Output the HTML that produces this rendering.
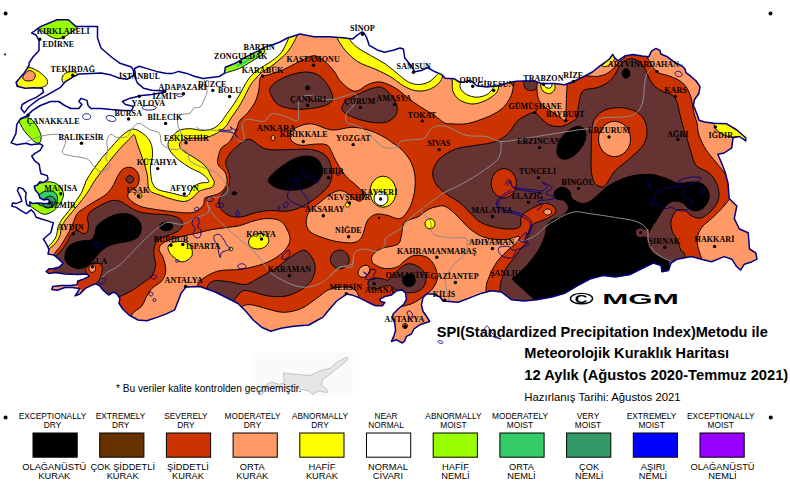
<!DOCTYPE html>
<html><head><meta charset="utf-8"><title>SPI</title>
<style>
html,body{margin:0;padding:0;background:#fff;}
body{width:790px;height:482px;overflow:hidden;position:relative;font-family:"Liberation Sans",sans-serif;}
svg{position:absolute;left:0;top:0;}
.c{font-family:"Liberation Serif",serif;font-weight:bold;font-size:8px;fill:#000;letter-spacing:0.1px;}
.l1{font-family:"Liberation Sans",sans-serif;font-size:8.3px;fill:#000;text-anchor:middle;}
.l2{font-family:"Liberation Sans",sans-serif;font-size:9.3px;fill:#000;text-anchor:middle;}
.t{font-family:"Liberation Sans",sans-serif;font-weight:bold;fill:#000;}
.n{font-family:"Liberation Sans",sans-serif;fill:#000;}
</style></head><body>
<svg width="790" height="482" viewBox="0 0 790 482">
<defs><clipPath id="tr"><path d="M135.2,73.4 L134.5,68.5 L139.2,66.3 L146.3,68.4 L156.5,71.4 L166.6,73.4 L172.7,73.4 L178.7,71.4 L186.8,73.4 L195.0,76.5 L203.0,78.5 L211.1,77.5 L219.2,76.5 L224.3,73.4 L225.3,67.3 L235.4,63.3 L245.6,57.2 L257.7,51.1 L264.8,47.1 L272.0,45.0 L280.0,42.0 L287.3,38.0 L300.0,34.0 L314.0,36.7 L329.0,36.7 L342.7,37.7 L352.8,38.9 L357.0,35.4 L361.6,32.0 L364.0,33.0 L366.7,37.7 L369.2,45.3 L378.1,50.3 L384.4,52.3 L393.3,50.3 L400.0,48.0 L403.4,49.0 L404.0,53.0 L404.7,57.9 L411.0,65.5 L414.8,71.8 L421.1,70.6 L427.5,67.5 L435.0,71.8 L441.4,74.4 L445.2,78.2 L454.0,78.7 L459.1,82.0 L464.2,82.0 L470.5,80.5 L476.8,85.8 L487.0,87.0 L497.1,85.8 L507.2,83.2 L516.0,81.2 L524.0,81.0 L534.0,81.0 L541.8,83.5 L554.4,83.5 L564.6,84.8 L574.7,81.0 L584.8,76.0 L592.4,72.0 L600.0,65.8 L609.0,59.5 L612.8,54.4 L614.0,57.0 L617.8,60.8 L625.4,55.7 L633.0,54.4 L642.0,55.9 L648.7,56.8 L651.5,51.2 L656.0,48.4 L659.9,50.3 L660.8,54.0 L667.3,56.8 L674.8,62.4 L682.2,66.0 L685.0,69.0 L686.0,72.6 L689.7,75.4 L696.2,81.0 L700.0,86.6 L699.0,93.2 L694.4,99.7 L693.4,105.3 L697.2,114.6 L699.0,120.2 L704.6,122.0 L714.0,123.3 L726.7,123.8 L736.8,130.0 L745.7,137.7 L745.7,141.0 L739.4,136.5 L733.0,137.7 L731.8,147.8 L724.2,153.0 L717.8,154.2 L721.6,163.0 L725.4,173.0 L728.0,183.3 L729.2,198.5 L736.8,206.0 L734.3,218.7 L739.4,229.0 L748.2,232.7 L749.5,249.0 L755.8,252.8 L757.0,259.2 L752.0,261.7 L744.4,264.2 L740.6,270.0 L736.8,266.8 L731.8,259.2 L724.2,256.6 L711.5,261.7 L701.4,259.2 L691.3,256.6 L677.3,259.2 L671.0,263.0 L668.5,270.6 L662.0,271.8 L661.0,265.5 L653.3,263.0 L643.0,268.0 L630.5,274.4 L615.3,277.0 L602.7,275.6 L590.0,279.0 L577.2,285.8 L564.6,293.4 L552.0,297.0 L536.7,299.7 L524.0,301.0 L511.4,299.7 L501.3,292.0 L491.0,290.8 L481.0,293.4 L468.4,298.4 L458.2,302.2 L443.0,301.0 L440.0,297.0 L433.0,294.1 L426.4,294.1 L423.1,297.4 L421.4,304.9 L423.1,311.5 L427.2,317.3 L429.7,321.5 L419.7,324.8 L413.9,329.0 L411.4,334.0 L406.4,336.4 L404.8,340.6 L402.3,343.0 L396.5,339.8 L391.5,341.4 L394.0,335.6 L395.6,330.6 L394.8,323.2 L392.3,318.2 L393.2,314.0 L398.1,309.0 L404.0,304.0 L406.4,299.0 L405.6,293.3 L402.3,290.0 L396.5,290.8 L391.5,294.9 L384.9,296.6 L379.9,299.0 L380.7,301.6 L384.9,302.4 L382.4,305.7 L375.7,305.7 L371.6,304.0 L364.9,300.7 L358.3,297.4 L351.6,294.9 L346.6,294.1 L336.7,301.0 L329.0,309.8 L322.8,317.4 L317.7,320.0 L308.9,325.0 L293.7,326.3 L281.0,328.3 L270.9,331.3 L262.0,327.5 L253.2,320.0 L245.6,311.0 L238.0,303.5 L225.3,297.0 L215.2,292.0 L200.0,286.5 L186.0,287.0 L181.0,293.4 L177.2,303.5 L174.7,309.8 L167.0,313.6 L157.0,317.4 L146.8,320.7 L138.0,320.0 L129.0,315.0 L122.7,309.0 L119.0,303.4 L119.9,298.7 L117.1,294.0 L113.4,292.2 L108.7,295.0 L103.1,290.3 L99.4,285.6 L95.6,283.8 L91.0,285.6 L85.4,288.4 L79.8,294.0 L75.1,295.9 L77.0,293.0 L79.8,288.4 L72.3,287.5 L64.9,287.5 L57.4,290.3 L51.8,289.4 L52.7,286.6 L61.1,285.6 L70.4,285.6 L77.0,284.7 L77.9,281.0 L83.5,279.1 L89.1,276.3 L87.2,273.9 L77.9,274.4 L64.9,273.9 L55.5,272.6 L49.0,273.5 L46.2,271.6 L49.0,268.8 L52.7,268.8 L59.3,267.0 L63.0,263.2 L58.3,258.6 L53.7,254.9 L48.0,254.0 L49.0,249.3 L46.2,243.7 L43.4,239.0 L50.9,232.5 L52.7,225.0 L53.5,222.9 L48.6,221.1 L42.3,219.2 L36.1,217.3 L34.2,213.0 L31.1,209.8 L26.2,213.6 L21.8,211.1 L16.2,207.4 L11.8,206.1 L12.5,203.0 L16.2,203.6 L21.8,201.1 L20.5,196.8 L17.4,190.5 L18.7,187.4 L23.0,188.7 L26.2,193.0 L25.5,197.4 L26.8,204.9 L29.9,206.1 L29.9,201.8 L32.4,203.6 L37.4,203.0 L43.6,203.6 L49.2,203.6 L49.8,201.1 L48.0,199.3 L43.6,199.9 L39.9,198.0 L38.6,193.7 L35.5,190.5 L34.2,186.2 L37.4,185.0 L39.9,181.8 L43.6,182.5 L48.0,179.3 L47.3,175.6 L41.0,173.7 L40.1,170.0 L39.2,164.4 L34.5,160.6 L31.7,156.0 L35.4,153.2 L40.1,150.4 L42.9,145.7 L40.1,143.8 L30.8,144.8 L26.1,143.3 L16.8,144.8 L11.2,142.9 L15.9,133.6 L16.8,124.3 L20.5,118.7 L27.0,115.9 L28.2,114.6 L32.3,110.6 L40.4,105.5 L50.5,101.5 L58.6,101.5 L64.7,105.5 L70.8,108.5 L78.9,108.5 L81.9,104.5 L78.9,101.5 L80.9,98.4 L87.0,100.4 L88.0,105.5 L91.0,108.5 L101.1,108.5 L111.3,109.6 L123.4,110.6 L131.5,110.6 L133.6,106.5 L125.4,104.5 L122.4,101.5 L129.5,98.4 L141.7,95.4 L151.8,94.4 L163.9,92.3 L166.0,90.9 L151.8,90.3 L143.7,88.3 L137.6,83.2 L135.0,77.5 Z M31.6,33.0 L40.5,26.6 L57.0,19.7 L68.4,19.7 L76.0,26.6 L97.5,26.6 L97.5,38.0 L101.0,48.0 L111.4,57.0 L120.0,63.3 L126.0,65.3 L131.5,67.0 L133.6,71.0 L133.6,75.1 L127.5,79.2 L119.4,78.2 L111.3,75.1 L101.1,73.1 L91.0,73.5 L78.9,74.1 L72.8,77.2 L64.7,82.2 L60.6,87.3 L53.5,91.3 L46.5,95.4 L38.4,99.4 L29.2,106.5 L25.2,111.6 L24.2,112.6 L21.1,108.5 L22.2,104.5 L29.2,100.4 L36.3,97.4 L43.4,92.3 L42.4,88.3 L34.3,87.7 L25.2,88.3 L17.1,86.3 L16.1,82.2 L24.2,73.1 L29.2,65.0 L29.0,63.0 L33.0,57.0 L39.0,50.6 L39.0,40.5 L36.0,35.0 Z"/></clipPath></defs>
<rect width="790" height="482" fill="#fff"/>
<rect x="252" y="352.5" width="100.6" height="43.5" fill="#fafafa"/>
<path d="M258.9,394.3 L264.5,386.0 L271.0,382.0 L279.3,384.4 L284.2,382.8 L283.5,372.9 L297.4,374.5 L310.5,375.5 L318.8,371.3 L330.3,368.0 L336.8,362.4 L346.7,357.0 L348.4,359.0 L341.8,364.7 L331.9,372.9 L323.7,378.8 L321.0,384.4 L327.0,389.3 L327.0,392.6 L318.8,391.0 L312.2,394.3 L308.9,391.0 L300.7,389.3 L290.8,386.0 L282.6,387.7 L274.3,386.0 L266.1,389.3 L261.2,395.3 Z" fill="#e6e6e6" stroke="#b8b8b8" stroke-width="0.8"/>
<g clip-path="url(#tr)">
<rect x="0" y="0" width="790" height="482" fill="#fff"/>
<path d="M44.0,252.0 C44.6,251.2 46.4,248.6 47.8,247.0 C49.2,245.4 51.0,244.1 52.5,242.2 C54.0,240.3 55.7,238.0 56.6,235.5 C57.5,233.0 57.0,230.1 57.9,227.4 C58.8,224.7 60.2,222.0 62.0,219.3 C63.8,216.6 66.5,214.1 68.7,211.2 C71.0,208.3 73.3,204.9 75.5,201.7 C77.7,198.5 80.0,195.6 81.8,192.2 C83.6,188.8 84.2,184.7 86.1,181.0 C88.0,177.3 90.3,173.8 93.0,169.9 C95.7,166.0 99.1,161.4 102.3,157.4 C105.5,153.4 109.1,149.7 112.2,146.2 C115.3,142.7 118.2,139.1 121.0,136.5 C123.8,133.9 126.7,131.6 129.1,130.4 C131.5,129.2 132.5,128.6 135.2,129.4 C137.9,130.2 142.6,132.9 145.3,135.4 C148.0,137.9 150.2,141.1 151.4,144.6 C152.6,148.1 152.6,153.0 152.4,156.7 C152.2,160.4 150.6,163.1 150.4,166.8 C150.2,170.5 151.0,176.1 151.4,179.0 C151.8,181.9 151.9,182.2 153.0,184.0 C154.1,185.8 154.7,187.9 158.0,189.5 C161.3,191.1 168.2,192.2 172.7,193.3 C177.2,194.4 182.1,196.1 184.8,196.3 C187.5,196.5 187.5,195.9 188.9,194.3 C190.3,192.8 191.0,188.9 193.0,187.0 C195.0,185.1 198.4,183.8 201.0,183.0 C203.6,182.2 207.4,183.0 208.5,182.3 C209.6,181.6 208.7,180.5 207.5,179.0 C206.3,177.5 204.4,175.3 201.6,173.5 C198.8,171.7 194.1,170.1 190.4,167.9 C186.7,165.7 182.5,163.1 179.2,160.4 C175.9,157.8 172.7,154.7 170.8,152.0 C168.9,149.3 168.0,146.8 168.0,144.5 C168.0,142.2 168.9,140.3 170.8,138.0 C172.7,135.7 175.9,132.1 179.2,130.5 C182.5,128.9 186.3,128.7 190.4,128.7 C194.5,128.7 199.4,130.7 203.5,130.5 C207.6,130.3 211.6,129.3 214.7,127.7 C217.8,126.1 220.2,123.0 222.0,121.0 C223.8,119.0 223.4,118.7 225.3,116.0 C227.2,113.3 231.0,108.3 233.4,104.8 C235.8,101.2 237.5,98.2 239.5,94.7 C241.5,91.2 243.6,86.7 245.6,83.5 C247.6,80.3 249.2,77.9 251.6,75.4 C253.9,72.9 256.6,70.6 259.7,68.4 C262.8,66.2 266.5,64.7 269.9,62.3 C273.3,59.9 277.5,56.9 280.0,54.2 C282.5,51.5 283.6,48.7 285.0,46.0 C286.4,43.3 287.8,40.7 288.6,38.0 C289.4,35.3 289.8,31.3 290.0,30.0 L290.0,-10.0 L800.0,-10.0 L800.0,400.0 L30.0,400.0 L30.0,252.0 Z" fill="#ffff00" stroke="#000" stroke-width="0.95" />
<path d="M46.0,256.0 C46.5,254.8 47.7,251.1 49.2,249.0 C50.7,246.9 53.4,245.8 55.2,243.6 C57.0,241.3 59.0,238.2 60.0,235.5 C61.0,232.8 60.3,230.1 61.3,227.4 C62.3,224.7 64.1,222.0 66.0,219.3 C67.9,216.6 70.5,213.9 72.8,211.2 C75.0,208.5 77.5,205.5 79.5,203.1 C81.5,200.7 83.0,198.7 84.6,196.5 C86.2,194.3 87.3,192.8 89.2,189.8 C91.1,186.8 93.5,182.3 96.1,178.6 C98.7,174.9 101.9,171.1 104.8,167.4 C107.7,163.7 110.4,159.9 113.5,156.2 C116.6,152.5 120.7,147.9 123.4,145.0 C126.2,142.1 128.2,140.2 130.0,138.5 C131.8,136.8 133.0,134.0 134.2,134.8 C135.4,135.6 135.7,139.2 137.2,143.5 C138.7,147.8 141.6,155.6 143.3,160.8 C145.0,166.0 146.3,170.0 147.3,174.9 C148.3,179.8 147.2,186.6 149.4,190.0 C151.6,193.4 156.6,193.7 160.5,195.3 C164.4,196.9 168.6,198.4 172.7,199.4 C176.8,200.4 181.4,201.8 184.8,201.4 C188.2,201.1 190.6,199.0 193.0,197.3 C195.4,195.6 197.0,192.7 199.0,191.3 C201.0,190.0 202.8,189.9 205.0,189.2 C207.2,188.5 210.5,188.4 212.0,187.2 C213.5,186.0 214.4,183.9 214.2,182.0 C214.0,180.1 212.5,178.7 211.0,176.0 C209.5,173.3 208.1,169.1 205.3,166.0 C202.5,162.9 197.4,159.9 194.0,157.6 C190.6,155.3 187.1,153.7 184.8,152.0 C182.5,150.3 180.8,148.9 180.0,147.3 C179.2,145.8 179.2,144.1 180.0,142.7 C180.8,141.3 182.8,139.8 184.8,139.0 C186.9,138.2 189.2,138.2 192.3,138.0 C195.4,137.8 199.8,138.6 203.5,138.0 C207.2,137.4 211.1,136.1 214.7,134.3 C218.3,132.5 222.7,129.6 225.3,127.0 C227.9,124.5 228.4,122.0 230.4,119.0 C232.4,116.0 235.3,112.3 237.5,108.9 C239.7,105.5 241.5,102.4 243.5,98.7 C245.5,95.0 247.7,89.8 249.6,86.6 C251.5,83.4 252.7,81.9 254.7,79.5 C256.7,77.1 259.3,74.4 261.8,72.4 C264.3,70.4 266.9,69.5 269.9,67.3 C272.9,65.1 276.9,62.0 280.0,59.2 C283.1,56.4 285.9,54.1 288.6,50.6 C291.3,47.1 294.4,41.4 296.0,38.0 C297.6,34.6 297.7,31.3 298.0,30.0 L298.0,-10.0 L800.0,-10.0 L800.0,400.0 L30.0,400.0 L30.0,256.0 Z" fill="#ff9966" stroke="#000" stroke-width="0.95" />
<path d="M50.0,260.0 C51.0,258.6 54.1,254.1 56.2,251.3 C58.3,248.5 60.1,246.8 62.5,243.0 C64.9,239.2 68.4,233.3 70.8,228.5 C73.2,223.7 74.9,217.3 77.0,214.0 C79.1,210.7 80.3,210.9 83.2,208.8 C86.1,206.7 91.0,203.8 94.6,201.5 C98.2,199.2 102.0,197.7 105.0,195.3 C108.0,192.9 110.2,190.1 112.3,187.0 C114.4,183.9 115.7,179.5 117.4,176.6 C119.1,173.7 120.5,170.9 122.6,169.3 C124.7,167.8 127.8,167.1 130.0,167.3 C132.2,167.5 134.5,168.7 136.0,170.4 C137.5,172.1 139.0,175.0 139.2,177.6 C139.4,180.2 138.7,183.8 137.2,186.0 C135.7,188.2 131.6,189.3 130.0,191.0 C128.4,192.7 127.5,194.6 127.8,196.3 C128.1,198.1 129.8,199.8 132.0,201.5 C134.2,203.2 137.0,205.3 141.3,206.7 C145.6,208.1 152.5,208.9 158.0,209.8 C163.5,210.7 169.3,211.4 174.5,211.9 C179.7,212.4 185.2,213.1 189.0,212.9 C192.8,212.7 194.9,212.2 197.3,210.8 C199.7,209.4 202.4,206.7 203.6,204.6 C204.8,202.5 203.5,199.8 204.6,198.4 C205.7,197.0 207.9,197.0 210.0,196.3 C212.1,195.6 215.0,195.4 217.2,194.3 C219.4,193.2 221.7,192.0 223.3,190.0 C224.9,188.0 226.6,185.3 227.0,182.5 C227.4,179.7 226.8,175.8 225.5,173.0 C224.2,170.2 220.3,168.1 219.0,166.0 C217.7,163.9 217.3,163.3 217.6,160.4 C217.9,157.5 219.0,151.6 221.0,148.5 C223.0,145.4 227.0,144.9 229.6,141.7 C232.2,138.4 234.8,132.4 236.5,129.0 C238.2,125.5 237.7,123.7 239.5,121.0 C241.3,118.3 245.1,115.9 247.6,112.9 C250.1,109.9 252.8,106.5 254.7,102.8 C256.6,99.1 257.9,94.3 258.7,90.6 C259.5,86.9 259.2,82.8 259.7,80.5 C260.2,78.2 260.1,77.5 261.8,76.5 C263.5,75.5 266.3,75.6 269.9,74.4 C273.5,73.2 278.3,71.9 283.5,69.6 C288.7,67.3 295.9,63.1 301.0,60.8 C306.1,58.5 310.2,55.7 314.0,55.7 C317.8,55.7 320.7,58.2 324.0,60.8 C327.3,63.3 331.3,67.7 334.0,71.0 C336.7,74.3 337.3,77.6 340.0,80.7 C342.7,83.8 347.3,87.9 350.3,89.6 C353.3,91.3 354.9,91.6 357.8,90.8 C360.8,90.0 364.2,86.0 368.0,84.5 C371.8,83.0 376.0,81.4 380.6,82.0 C385.2,82.6 391.2,85.6 395.8,88.3 C400.4,91.0 404.3,95.2 408.5,98.4 C412.7,101.6 416.9,104.5 421.1,107.3 C425.3,110.0 430.0,112.4 433.8,114.9 C437.6,117.4 441.1,121.0 443.9,122.5 C446.7,124.0 447.0,123.6 450.6,123.8 C454.2,124.0 460.7,124.5 465.8,123.8 C470.9,123.1 476.2,121.2 481.0,119.5 C485.8,117.8 490.7,115.8 494.6,113.6 C498.6,111.3 502.0,109.0 504.7,106.0 C507.4,103.0 509.5,99.3 511.0,95.9 C512.5,92.5 512.8,89.3 513.5,85.8 C514.2,82.3 514.8,76.8 515.0,75.0 L515.0,-10.0 L800.0,-10.0 L800.0,400.0 L30.0,400.0 L30.0,260.0 Z" fill="#cc3300" stroke="#000" stroke-width="0.95" />
<path d="M290.0,134.0 C290.6,131.7 292.6,129.3 296.2,127.6 C299.8,125.9 305.5,123.4 311.4,123.8 C317.3,124.2 324.8,129.4 331.6,130.0 C338.4,130.6 345.8,127.2 352.0,127.3 C358.2,127.3 363.8,128.8 369.0,130.3 C374.2,131.8 379.2,134.5 383.0,136.5 C386.8,138.5 388.8,140.2 391.8,142.3 C394.8,144.4 397.9,146.1 401.0,149.1 C404.1,152.1 407.8,156.3 410.1,160.5 C412.4,164.7 413.9,169.2 414.7,174.2 C415.5,179.1 415.3,185.2 414.7,190.2 C414.1,195.1 412.8,199.9 411.3,203.9 C409.8,207.9 407.6,211.7 405.5,214.2 C403.4,216.7 401.7,218.6 398.7,218.8 C395.7,219.0 391.1,216.1 387.3,215.3 C383.5,214.5 379.1,213.4 375.9,214.2 C372.7,215.0 369.8,217.4 367.9,219.9 C366.0,222.4 365.6,225.9 364.5,229.0 C363.4,232.1 362.9,235.9 361.0,238.2 C359.1,240.5 357.0,242.1 353.0,242.7 C349.0,243.3 342.3,242.5 337.0,241.6 C331.7,240.7 325.6,238.7 321.0,237.0 C316.4,235.3 312.2,233.8 309.7,231.3 C307.2,228.8 306.2,225.6 306.2,222.2 C306.2,218.8 307.2,214.2 309.7,210.8 C312.2,207.4 317.4,204.5 321.0,201.6 C324.6,198.7 328.3,195.4 331.4,193.6 C334.4,191.8 336.8,190.9 339.3,190.7 C341.8,190.5 343.9,191.2 346.2,192.5 C348.5,193.8 350.7,196.8 353.0,198.2 C355.3,199.6 358.0,201.5 359.9,201.2 C361.8,200.9 364.1,198.1 364.5,196.5 C364.9,194.9 363.7,193.4 362.2,191.4 C360.7,189.4 358.0,187.0 355.3,184.5 C352.6,182.0 349.2,180.1 346.2,176.5 C343.1,172.9 339.5,167.0 337.0,162.8 C334.5,158.6 333.1,154.4 331.4,151.4 C329.7,148.4 329.5,146.2 327.0,145.0 C324.5,143.8 320.8,143.9 316.5,144.0 C312.2,144.1 305.3,145.7 301.3,145.3 C297.3,144.9 294.3,143.4 292.4,141.5 C290.5,139.6 289.4,136.3 290.0,134.0Z" fill="#ff9966" stroke="#000" stroke-width="0.95" />
<path d="M131.6,330.0 C131.6,327.5 129.9,319.0 131.6,315.0 C133.3,311.0 139.3,309.2 141.8,306.0 C144.3,302.8 145.1,298.9 146.8,296.0 C148.5,293.1 149.5,290.9 152.0,288.3 C154.5,285.8 159.7,283.6 162.0,280.7 C164.3,277.8 165.6,274.4 165.8,270.6 C166.0,266.8 164.4,261.6 163.3,258.0 C162.2,254.4 159.1,251.7 159.0,249.2 C158.9,246.7 160.8,244.7 163.0,243.0 C165.2,241.3 168.8,240.1 172.4,238.9 C176.1,237.7 180.4,236.8 184.9,235.7 C189.4,234.6 195.0,233.6 199.4,232.6 C203.8,231.6 206.8,230.5 211.1,229.7 C215.4,228.9 220.6,228.4 225.3,227.7 C230.0,227.0 235.1,226.7 239.5,225.7 C243.9,224.7 247.2,222.8 251.6,221.6 C256.0,220.4 261.1,218.8 265.8,218.6 C270.5,218.4 276.4,218.7 280.0,220.6 C283.6,222.5 285.6,226.7 287.3,230.0 C289.0,233.3 290.4,236.8 290.0,240.2 C289.6,243.6 287.6,247.1 284.8,250.3 C282.0,253.5 277.8,256.7 273.4,259.2 C269.0,261.7 263.7,263.8 258.2,265.5 C252.7,267.2 246.8,268.4 240.5,269.3 C234.2,270.2 225.8,269.6 220.3,270.6 C214.8,271.7 211.3,273.4 207.6,275.6 C203.9,277.8 199.9,279.9 198.0,284.0 C196.1,288.1 196.3,297.3 196.0,300.0L196.0,345.0 L131.6,345.0 Z" fill="#ff9966" stroke="#000" stroke-width="0.95" />
<path d="M238.0,320.0 C238.6,317.9 239.7,309.9 241.8,307.3 C243.9,304.8 246.6,304.5 250.6,304.7 C254.6,304.9 260.3,307.2 265.8,308.5 C271.3,309.8 277.6,312.3 283.5,312.3 C289.4,312.3 295.8,310.8 301.3,308.5 C306.8,306.2 311.9,301.5 316.5,298.4 C321.1,295.2 324.8,291.5 329.0,289.6 C333.2,287.7 338.0,287.2 341.8,287.0 C345.6,286.8 349.3,287.0 352.0,288.3 C354.7,289.6 356.9,291.0 358.2,294.6 C359.5,298.2 359.7,307.4 360.0,310.0L360.0,345.0 L238.0,345.0 Z" fill="#ff9966" stroke="#000" stroke-width="0.95" />
<path d="M371.6,257.4 C372.0,255.4 374.1,253.2 376.0,251.6 C377.9,250.0 380.3,249.0 383.2,248.0 C386.1,247.0 390.7,246.7 393.4,245.8 C396.1,245.0 397.9,244.6 399.2,242.9 C400.5,241.2 400.7,238.8 401.4,235.6 C402.1,232.4 402.4,226.5 403.5,224.0 C404.6,221.5 405.5,221.6 407.9,220.4 C410.3,219.2 415.3,218.1 418.0,216.8 C420.7,215.5 421.9,213.7 423.9,212.4 C425.8,211.1 427.8,209.7 429.7,208.8 C431.6,207.9 433.1,207.5 435.5,207.0 C437.9,206.5 441.1,205.2 444.0,206.0 C446.9,206.8 450.0,209.5 453.0,212.0 C456.0,214.5 459.2,218.2 462.0,221.0 C464.8,223.8 466.8,226.5 470.0,229.0 C473.2,231.5 477.3,234.3 481.0,236.0 C484.7,237.7 487.8,238.4 492.0,239.0 C496.2,239.6 501.8,239.9 506.3,239.5 C510.8,239.1 517.3,235.9 519.0,236.4 C520.7,236.9 518.6,240.2 516.5,242.7 C514.4,245.2 509.7,248.2 506.3,251.6 C502.9,255.0 499.1,258.6 496.2,263.0 C493.2,267.4 490.3,273.8 488.6,278.2 C486.9,282.6 486.4,282.6 486.0,289.6 C485.6,296.6 493.7,309.9 486.0,320.0 C478.3,330.1 456.0,345.0 440.0,350.0 C424.0,355.0 398.7,356.3 390.0,350.0 C381.3,343.7 386.3,319.2 388.0,312.0 C389.7,304.8 396.2,308.3 400.0,307.0 C403.8,305.7 407.7,305.3 411.0,304.0 C414.3,302.7 417.7,300.5 420.0,299.0 C422.3,297.5 422.9,296.7 425.0,295.0 C427.1,293.3 430.6,291.6 432.7,288.7 C434.8,285.8 437.1,281.7 437.4,277.8 C437.7,273.9 436.1,268.9 434.3,265.4 C432.5,261.9 429.9,258.6 426.5,257.0 C423.1,255.3 417.6,254.9 414.0,255.5 C410.4,256.1 407.5,258.8 404.7,260.7 C401.9,262.6 400.4,265.7 397.0,267.0 C393.6,268.3 388.4,269.0 384.5,268.5 C380.6,268.0 375.8,265.7 373.6,263.8 C371.5,261.9 371.2,259.4 371.6,257.4Z" fill="#ff9966" stroke="#000" stroke-width="0.95" />
<path d="M570.0,84.0 C571.3,83.2 575.5,80.3 578.0,79.0 C580.5,77.7 582.0,76.4 585.2,76.0 C588.4,75.6 593.7,76.8 597.3,76.4 C600.9,76.0 603.9,75.0 606.7,73.6 C609.5,72.2 611.9,70.0 614.1,68.0 C616.3,66.0 618.0,63.2 619.7,61.5 C621.4,59.8 623.2,59.6 624.4,57.7 C625.6,55.8 626.6,51.3 627.0,50.0L570.0,50.0 Z" fill="#ff9966" stroke="#000" stroke-width="0.95" />
<path d="M645.0,45.0 C645.5,47.1 646.5,54.2 647.7,57.7 C648.9,61.2 650.7,63.5 652.4,66.0 C654.1,68.5 655.5,71.0 658.0,72.6 C660.5,74.2 663.9,74.2 667.3,75.4 C670.7,76.6 675.4,78.1 678.5,80.0 C681.6,81.9 684.0,83.9 686.0,86.6 C688.0,89.3 689.5,92.9 690.6,96.0 C691.7,99.1 691.9,102.2 692.5,105.3 C693.1,108.4 693.6,111.5 694.4,114.6 C695.2,117.7 696.5,120.6 697.2,124.0 C698.0,127.4 697.4,130.6 698.9,135.0 C700.4,139.4 703.5,145.7 706.5,150.4 C709.5,155.1 713.4,158.9 716.6,163.0 C719.9,167.1 724.4,173.0 726.0,175.0L760.0,173.0 L760.0,45.0 Z" fill="#ff9966" stroke="#000" stroke-width="0.95" />
<path d="M732.0,197.0 C731.5,197.4 730.7,197.8 729.0,199.7 C727.3,201.6 724.5,205.4 721.6,208.6 C718.7,211.8 714.6,215.8 711.5,218.7 C708.4,221.6 705.2,223.3 703.0,226.0 C700.8,228.7 698.9,231.8 698.0,235.0 C697.1,238.2 697.0,241.5 697.6,245.3 C698.2,249.1 700.8,255.9 701.4,258.0L701.0,280.0 L770.0,280.0 L770.0,199.0 Z" fill="#ff9966" stroke="#000" stroke-width="0.95" />
<path d="M333.0,30.0 C333.8,31.5 335.6,35.6 337.6,39.0 C339.6,42.4 341.8,46.5 345.2,50.3 C348.6,54.1 352.7,58.5 357.8,61.7 C362.9,64.9 370.1,66.8 375.6,69.3 C381.1,71.8 386.2,74.2 390.8,76.9 C395.4,79.7 399.2,83.5 403.4,85.8 C407.6,88.1 411.8,90.2 416.0,90.8 C420.2,91.4 424.9,90.9 428.7,89.6 C432.5,88.3 436.6,85.5 438.9,83.2 C441.2,80.9 442.0,78.6 442.7,75.6 C443.4,72.6 442.9,66.8 443.0,65.0Z" fill="#ffff00" stroke="#000" stroke-width="0.95" />
<path d="M340.0,15.0 C341.3,17.8 346.3,27.8 348.0,32.0 C349.7,36.2 348.7,37.6 350.3,40.2 C351.9,42.8 354.4,45.3 357.8,47.8 C361.2,50.3 365.9,52.7 370.5,55.4 C375.1,58.1 381.1,61.0 385.7,64.2 C390.3,67.4 394.6,71.4 398.4,74.4 C402.2,77.4 405.1,80.3 408.5,82.0 C411.9,83.7 415.2,84.5 418.6,84.5 C422.0,84.5 425.8,83.5 428.7,82.0 C431.6,80.5 434.6,77.3 436.3,75.6 C438.0,73.9 438.3,74.1 438.9,71.8 C439.5,69.5 439.0,71.5 440.0,62.0 C441.0,52.5 444.2,22.8 445.0,15.0Z" fill="#ffffff" stroke="#000" stroke-width="0.95" />
<path d="M452.3,74.0 C452.3,75.3 452.2,79.2 452.3,82.0 C452.4,84.8 451.7,87.8 452.8,90.8 C453.9,93.8 455.9,97.5 459.1,99.7 C462.3,101.9 467.6,103.8 471.8,104.0 C476.0,104.2 480.6,102.6 484.4,101.0 C488.2,99.4 492.3,96.7 494.6,94.6 C496.9,92.5 497.8,91.4 498.4,88.3 C499.0,85.2 498.1,78.0 498.0,76.0Z" fill="#ffff00" stroke="#000" stroke-width="0.95" />
<path d="M460.4,74.0 C460.4,75.3 460.4,79.6 460.4,82.0 C460.4,84.4 459.3,86.2 460.4,88.3 C461.4,90.4 464.0,93.1 466.7,94.6 C469.4,96.1 473.4,97.2 476.8,97.2 C480.2,97.2 484.5,95.9 487.0,94.6 C489.5,93.3 490.9,91.0 492.0,89.6 C493.1,88.2 493.1,88.6 493.3,86.3 C493.6,84.0 493.5,77.7 493.5,76.0Z" fill="#ffffff" stroke="#000" stroke-width="0.95" />
<path d="M602.0,65.8 C602.2,64.9 605.1,63.0 607.0,61.0 C608.9,59.0 611.9,54.0 613.2,53.5 C614.5,53.0 615.4,56.3 615.0,58.0 C614.6,59.7 612.5,62.1 611.0,63.5 C609.5,64.9 607.5,66.1 606.0,66.5 C604.5,66.9 601.8,66.7 602.0,65.8Z" fill="#ffff00" stroke="#000" stroke-width="0.95" />
<path d="M712.0,122.0 C712.3,122.4 713.2,123.2 714.0,124.5 C714.8,125.8 714.9,128.2 716.6,130.0 C718.3,131.8 721.7,133.8 724.2,135.0 C726.7,136.2 729.3,136.8 731.8,137.0 C734.3,137.2 738.1,136.6 739.4,136.5L748.0,142.0 L748.0,120.0 Z" fill="#ffff00" stroke="#000" stroke-width="0.95" />
<path d="M270.4,87.4 C272.3,84.5 277.6,80.5 282.8,78.0 C288.0,75.5 296.0,73.1 301.5,72.4 C307.0,71.7 311.9,72.1 316.0,73.9 C320.1,75.7 323.6,79.4 326.4,83.2 C329.2,87.0 332.2,93.2 332.6,96.7 C333.0,100.2 331.6,102.1 328.5,104.0 C325.4,105.9 319.5,107.2 314.0,108.1 C308.5,108.9 301.2,109.6 295.3,109.1 C289.4,108.6 282.7,107.2 278.7,105.0 C274.7,102.8 272.8,98.6 271.4,95.7 C270.0,92.8 268.5,90.4 270.4,87.4Z" fill="#663333" stroke="#000" stroke-width="0.95" />
<path d="M342.0,107.0 C342.5,104.9 344.3,102.0 347.2,99.8 C350.1,97.6 355.5,95.5 359.6,93.6 C363.7,91.7 368.4,89.4 372.0,88.4 C375.6,87.4 378.3,86.4 381.4,87.4 C384.5,88.4 388.1,91.5 390.7,94.6 C393.3,97.7 396.3,102.4 397.0,106.0 C397.7,109.6 397.0,113.6 394.9,116.4 C392.8,119.2 389.0,121.7 384.5,122.6 C380.0,123.5 373.1,122.5 367.9,121.6 C362.7,120.7 357.4,119.0 353.4,117.4 C349.4,115.9 345.9,114.0 344.0,112.3 C342.1,110.6 341.5,109.1 342.0,107.0Z" fill="#663333" stroke="#000" stroke-width="0.95" />
<path d="M225.8,161.6 C226.3,159.3 228.0,156.2 229.9,153.6 C231.8,151.0 235.1,148.2 237.4,146.1 C239.7,144.0 241.8,142.2 243.6,141.1 C245.4,140.0 246.8,139.3 248.5,139.3 C250.2,139.3 251.7,140.0 253.6,141.1 C255.5,142.2 257.5,144.7 259.8,146.1 C262.1,147.5 263.8,148.7 267.3,149.3 C270.8,149.9 276.1,149.9 281.0,149.9 C285.9,149.9 291.6,149.3 296.8,149.3 C302.1,149.3 307.9,148.8 312.5,149.7 C317.1,150.6 321.4,152.3 324.4,154.6 C327.4,156.9 329.1,160.0 330.3,163.5 C331.6,167.0 332.2,171.6 331.9,175.4 C331.6,179.2 330.4,182.9 328.3,186.2 C326.2,189.5 322.7,192.2 319.4,195.0 C316.1,197.8 312.4,200.7 308.6,203.0 C304.8,205.3 300.8,207.5 296.8,208.9 C292.9,210.3 289.5,210.9 284.9,211.2 C280.3,211.5 274.1,210.2 269.2,210.5 C264.3,210.8 260.0,211.8 255.4,212.8 C250.8,213.9 245.9,216.3 241.6,216.8 C237.3,217.3 233.2,217.1 229.7,215.8 C226.2,214.5 222.6,211.4 220.8,208.9 C219.0,206.4 218.6,203.6 218.9,201.0 C219.2,198.4 221.2,195.7 222.8,193.1 C224.4,190.5 227.5,188.1 228.7,185.2 C229.8,182.2 230.0,178.3 229.7,175.4 C229.4,172.5 227.5,169.8 226.8,167.5 C226.2,165.2 225.3,163.9 225.8,161.6Z" fill="#663333" stroke="#000" stroke-width="0.95" />
<path d="M40.0,262.0 C42.7,260.9 51.8,258.7 56.2,255.5 C60.6,252.3 64.2,246.5 66.6,243.0 C69.0,239.5 69.1,236.8 70.8,234.7 C72.5,232.6 74.9,230.8 77.0,230.6 C79.1,230.4 81.5,233.5 83.2,233.7 C84.9,233.9 86.5,233.2 87.4,231.6 C88.3,230.0 88.4,226.7 88.4,224.3 C88.4,221.9 86.9,219.2 87.4,217.0 C87.9,214.8 89.1,212.9 91.5,210.8 C93.9,208.7 98.4,206.3 101.9,204.6 C105.4,202.9 109.2,201.0 112.3,200.5 C115.4,200.0 117.8,200.5 120.6,201.5 C123.4,202.5 125.8,205.0 128.9,206.7 C132.0,208.4 135.0,210.7 139.2,211.9 C143.3,213.1 149.0,213.5 153.8,214.0 C158.7,214.5 164.2,214.3 168.3,215.0 C172.5,215.7 176.3,216.5 178.7,218.1 C181.1,219.7 182.8,222.2 182.8,224.3 C182.8,226.4 180.8,228.9 178.7,230.6 C176.6,232.3 173.5,233.3 170.4,234.7 C167.3,236.1 162.6,237.2 160.0,238.9 C157.4,240.6 155.8,242.6 154.8,245.0 C153.8,247.4 153.8,250.9 153.8,253.4 C153.8,255.9 154.5,258.0 154.8,260.0 C155.1,262.0 156.2,262.9 155.7,265.5 C155.2,268.1 153.9,272.9 152.0,275.6 C150.1,278.4 147.7,279.5 144.3,282.0 C140.9,284.5 133.7,289.3 131.6,290.8L119.0,297.0 L119.0,330.0 L40.0,330.0 Z" fill="#663333" stroke="#000" stroke-width="0.95" />
<path d="M534.0,112.7 C537.0,113.1 539.2,117.0 541.8,119.0 C544.4,121.0 546.0,123.8 549.4,125.0 C552.8,126.2 557.8,127.1 562.0,126.3 C566.2,125.5 572.2,121.7 574.7,120.0 C577.2,118.3 576.3,118.8 577.0,116.0 C577.7,113.2 578.2,106.8 579.0,103.0 C579.8,99.2 580.3,95.2 581.5,93.0 C582.7,90.8 583.4,90.4 586.0,89.5 C588.6,88.6 593.5,88.8 597.3,87.6 C601.0,86.3 605.5,84.2 608.5,82.0 C611.5,79.8 613.1,77.2 615.0,74.5 C616.9,71.8 618.0,68.3 619.7,66.0 C621.4,63.7 623.1,61.7 625.3,60.5 C627.5,59.3 630.3,58.4 632.8,58.7 C635.3,59.0 638.1,60.4 640.3,62.4 C642.5,64.4 644.3,68.0 645.9,70.8 C647.5,73.6 648.0,76.5 649.6,79.2 C651.2,81.9 652.7,84.5 655.2,86.7 C657.7,88.9 661.7,90.9 664.5,92.3 C667.3,93.7 670.0,93.5 672.0,95.0 C674.0,96.5 675.4,98.3 676.7,101.6 C678.0,104.9 678.8,110.0 680.0,114.7 C681.2,119.4 682.9,126.3 684.0,130.0 C685.1,133.7 685.3,133.2 686.5,137.0 C687.7,140.8 689.7,148.2 691.3,153.0 C692.9,157.8 693.3,162.3 696.3,165.6 C699.2,168.9 705.6,170.1 709.0,173.0 C712.4,175.9 714.9,179.5 716.6,183.3 C718.3,187.1 719.2,192.2 719.0,196.0 C718.8,199.8 717.4,202.8 715.3,206.0 C713.2,209.2 709.2,213.0 706.5,215.0 C703.8,217.0 701.6,218.2 698.9,218.2 C696.1,218.2 692.3,216.4 690.0,215.0 C687.7,213.6 687.3,210.7 685.0,210.0 C682.7,209.3 678.3,209.1 676.0,211.0 C673.7,212.9 671.6,217.9 671.0,221.3 C670.4,224.7 671.5,228.7 672.3,231.4 C673.1,234.1 674.5,234.5 676.0,237.7 C677.5,240.8 679.5,246.9 681.0,250.3 C682.5,253.7 684.3,248.1 685.0,258.0 C685.7,267.9 715.8,301.3 685.0,310.0 C654.2,318.7 530.8,313.1 500.0,310.0 C469.2,306.9 499.8,296.2 500.0,291.3 C500.2,286.4 500.2,284.6 501.3,280.7 C502.4,276.8 504.2,271.8 506.3,268.0 C508.4,264.2 511.5,261.4 514.0,258.0 C516.5,254.6 519.4,250.5 521.5,247.8 C523.6,245.1 525.4,244.7 526.6,242.0 C527.9,239.3 527.8,234.4 529.0,231.4 C530.2,228.4 531.0,225.9 534.0,223.8 C537.0,221.7 543.2,220.6 546.8,218.7 C550.4,216.8 554.7,214.5 555.7,212.4 C556.7,210.3 554.9,207.5 553.0,206.0 C551.1,204.5 547.9,203.1 544.3,203.5 C540.7,203.9 535.4,206.5 531.6,208.6 C527.8,210.7 523.4,213.1 521.5,216.0 C519.6,218.9 522.0,224.1 520.3,226.3 C518.6,228.5 515.4,228.8 511.4,229.0 C507.4,229.2 501.3,228.7 496.2,227.6 C491.1,226.5 485.2,224.8 481.0,222.5 C476.8,220.2 474.4,216.9 471.0,213.7 C467.6,210.5 465.0,206.9 460.8,203.5 C456.6,200.1 449.8,196.8 445.6,193.4 C441.4,190.0 437.5,187.1 435.4,183.3 C433.3,179.5 432.1,174.8 433.0,170.6 C433.9,166.4 436.7,161.6 440.5,158.0 C444.3,154.4 449.8,151.1 455.7,149.0 C461.6,146.9 469.2,146.6 476.0,145.3 C482.8,144.1 490.7,143.6 496.2,141.5 C501.7,139.4 505.5,135.9 508.9,132.7 C512.3,129.4 514.0,124.7 516.5,122.0 C519.0,119.3 521.1,118.0 524.0,116.5 C526.9,115.0 531.0,112.3 534.0,112.7Z" fill="#663333" stroke="#000" stroke-width="0.95" />
<path d="M207.6,295.0 C207.6,293.5 206.3,288.2 207.6,285.8 C208.9,283.4 211.4,281.3 215.2,280.7 C219.0,280.1 225.3,281.4 230.4,282.0 C235.5,282.6 241.0,285.1 245.6,284.5 C250.2,283.9 253.1,280.9 258.2,278.2 C263.3,275.4 270.5,271.6 276.0,268.0 C281.5,264.4 286.4,259.6 291.0,256.6 C295.6,253.7 300.4,250.3 303.8,250.3 C307.2,250.3 309.5,253.7 311.4,256.6 C313.3,259.6 315.2,264.0 315.2,268.0 C315.2,272.0 313.7,277.1 311.4,280.7 C309.1,284.3 305.5,287.1 301.3,289.6 C297.1,292.2 291.5,294.9 286.0,296.0 C280.5,297.1 273.9,296.7 268.4,296.0 C262.9,295.3 257.4,292.9 253.2,292.0 C249.0,291.1 246.0,289.7 243.0,290.8 C240.0,291.9 237.5,296.0 235.4,298.4 C233.3,300.8 231.2,303.9 230.4,305.0Z" fill="#663333" stroke="#000" stroke-width="0.95" />
<path d="M524.0,76.0 C524.0,77.3 523.7,81.8 524.0,84.0 C524.3,86.2 524.8,87.9 526.0,89.0 C527.2,90.1 529.3,90.5 531.0,90.5 C532.7,90.5 534.8,90.1 536.0,89.0 C537.2,87.9 537.7,86.2 538.0,84.0 C538.3,81.8 538.0,77.3 538.0,76.0Z" fill="#663333" stroke="#000" stroke-width="0.95" />
<path d="M367.9,284.1 C367.7,282.7 368.6,281.0 369.5,280.0 C370.4,279.0 371.3,278.6 373.2,278.3 C375.1,278.0 378.2,278.0 380.7,278.3 C383.2,278.6 386.1,280.6 388.2,280.0 C390.3,279.4 391.5,276.7 393.2,275.0 C394.9,273.3 395.7,271.9 398.1,270.0 C400.5,268.1 404.5,264.4 407.8,263.8 C411.1,263.2 415.2,265.0 418.0,266.5 C420.8,268.0 423.2,270.8 424.5,273.0 C425.8,275.2 426.2,277.2 426.0,279.5 C425.8,281.8 425.0,285.0 423.5,287.0 C422.0,289.0 419.4,290.5 417.0,291.5 C414.6,292.5 412.1,292.8 409.4,292.8 C406.7,292.8 403.4,292.1 401.0,291.5 C398.6,290.9 396.7,290.1 394.8,289.1 C392.9,288.2 391.7,286.2 389.8,285.8 C387.9,285.4 385.4,286.1 383.2,286.6 C381.0,287.2 378.6,288.8 376.5,289.1 C374.4,289.4 372.1,289.1 370.7,288.3 C369.3,287.5 368.1,285.5 367.9,284.1Z" fill="#663333" stroke="#000" stroke-width="0.95" />
<path d="M349.2,259.5 L348.9,261.9 L347.9,264.2 L346.4,266.1 L344.5,267.6 L342.2,268.6 L339.8,268.9 L337.4,268.6 L335.1,267.6 L333.2,266.1 L331.7,264.2 L330.7,261.9 L330.4,259.5 L330.7,257.1 L331.7,254.8 L333.2,252.9 L335.1,251.4 L337.4,250.4 L339.8,250.1 L342.2,250.4 L344.5,251.4 L346.4,252.9 L347.9,254.8 L348.9,257.1 Z" fill="#663333" stroke="#000" stroke-width="0.95" />
<path d="M133.7,179.3 L133.6,180.3 L133.2,181.2 L132.6,181.9 L131.8,182.5 L131.0,182.9 L130.0,183.0 L129.0,182.9 L128.2,182.5 L127.4,181.9 L126.8,181.2 L126.4,180.3 L126.3,179.3 L126.4,178.3 L126.8,177.5 L127.4,176.7 L128.2,176.1 L129.0,175.7 L130.0,175.6 L131.0,175.7 L131.8,176.1 L132.6,176.7 L133.2,177.5 L133.6,178.3 Z" fill="#663333" stroke="#000" stroke-width="0.95" />
<path d="M605.0,110.0 C609.1,108.4 615.3,107.4 620.4,107.6 C625.5,107.8 631.6,109.3 635.6,111.4 C639.6,113.5 642.5,116.5 644.4,120.0 C646.3,123.5 647.2,128.5 647.0,132.7 C646.8,136.9 645.8,141.1 643.0,145.3 C640.2,149.5 635.1,153.8 630.5,158.0 C625.9,162.2 619.1,166.6 615.3,170.6 C611.5,174.6 609.8,179.3 607.7,182.0 C605.6,184.7 604.8,186.8 602.7,187.0 C600.6,187.2 596.9,186.0 595.0,183.3 C593.1,180.6 591.9,176.9 591.3,170.6 C590.7,164.3 591.1,152.9 591.3,145.3 C591.5,137.7 591.7,129.7 592.5,125.0 C593.3,120.3 593.9,119.5 596.0,117.0 C598.1,114.5 600.9,111.6 605.0,110.0Z" fill="#cc3300" stroke="#000" stroke-width="0.95" />
<path d="M516.4,183.3 L516.0,187.1 L514.7,190.7 L512.7,193.7 L510.1,196.0 L507.1,197.5 L503.8,198.0 L500.5,197.5 L497.5,196.0 L494.9,193.7 L492.9,190.7 L491.6,187.1 L491.2,183.3 L491.6,179.5 L492.9,176.0 L494.9,172.9 L497.5,170.6 L500.5,169.1 L503.8,168.6 L507.1,169.1 L510.1,170.6 L512.7,172.9 L514.7,176.0 L516.0,179.5 Z" fill="#cc3300" stroke="#000" stroke-width="0.95" />
<path d="M85.4,268.8 C86.2,267.5 88.8,265.1 91.0,264.2 C93.2,263.3 96.5,262.7 98.4,263.2 C100.3,263.7 101.7,265.1 102.2,267.0 C102.7,268.9 101.8,272.1 101.2,274.4 C100.6,276.7 99.5,279.4 98.4,281.0 C97.3,282.6 96.1,283.1 94.7,284.3 C93.3,285.5 91.8,286.7 90.0,288.0 C88.2,289.3 86.3,291.7 84.0,292.0 C81.7,292.3 77.7,291.5 76.0,290.0 C74.3,288.5 73.7,284.8 74.0,283.0 C74.3,281.2 76.0,280.2 78.0,279.0 C80.0,277.8 84.7,277.2 86.0,276.0 C87.3,274.8 86.1,273.2 86.0,272.0 C85.9,270.8 84.6,270.1 85.4,268.8Z" fill="#cc3300" stroke="#000" stroke-width="0.95" />
<path d="M45.0,283.0 L77.5,283.5 L79.0,288.4 L82.0,290.0 L76.0,299.0 L45.0,293.0 Z" fill="#ff9966"  />
<path d="M44.0,266.0 L53.0,266.0 L53.0,274.0 L44.0,274.0 Z" fill="#cc3300"  />
<path d="M630.5,139.0 L630.0,143.6 L628.4,147.8 L625.8,151.5 L622.5,154.3 L618.6,156.1 L614.5,156.7 L610.4,156.1 L606.5,154.3 L603.2,151.5 L600.6,147.8 L599.0,143.6 L598.5,139.0 L599.0,134.4 L600.6,130.2 L603.2,126.5 L606.5,123.7 L610.4,121.9 L614.5,121.3 L618.6,121.9 L622.5,123.7 L625.8,126.5 L628.4,130.2 L630.0,134.4 Z" fill="#ff9966" stroke="#000" stroke-width="0.95" />
<path d="M538.0,75.0 C537.8,76.8 537.1,82.7 537.0,86.0 C536.9,89.3 537.0,92.3 537.5,95.0 C538.0,97.7 538.6,99.8 540.0,102.0 C541.4,104.2 543.7,106.2 546.0,108.0 C548.3,109.8 551.5,111.3 554.0,113.0 C556.5,114.7 559.1,116.7 561.0,118.0 C562.9,119.3 564.6,122.0 565.4,120.7 C566.2,119.4 565.8,114.3 566.0,110.0 C566.2,105.7 566.3,99.0 566.5,95.0 C566.7,91.0 566.9,89.3 567.0,86.0 C567.1,82.7 567.0,76.8 567.0,75.0Z" fill="#ff9966" stroke="#000" stroke-width="0.95" />
<path d="M540.5,78.0 C540.5,79.1 540.1,82.6 540.5,84.8 C540.9,87.0 541.5,89.5 543.0,91.0 C544.5,92.5 547.5,93.9 549.4,93.7 C551.3,93.5 553.5,91.5 554.4,90.0 C555.3,88.5 554.9,86.8 555.0,84.8 C555.1,82.8 555.0,79.1 555.0,78.0Z" fill="#ffff00" stroke="#000" stroke-width="0.95" />
<path d="M543.5,78.0 C543.5,79.0 543.1,82.4 543.5,84.0 C543.9,85.6 544.9,86.8 546.0,87.5 C547.1,88.2 549.0,88.4 550.0,88.0 C551.0,87.6 551.7,86.7 552.0,85.0 C552.3,83.3 552.0,79.2 552.0,78.0Z" fill="#ffffff" stroke="#000" stroke-width="0.95" />
<path d="M358.0,273.0 C358.0,271.3 359.4,268.3 361.0,267.0 C362.6,265.7 365.9,264.9 367.4,265.4 C368.9,265.9 370.1,268.2 369.8,270.0 C369.5,271.8 367.3,275.1 365.8,276.3 C364.3,277.5 362.3,277.6 361.0,277.0 C359.7,276.4 358.0,274.7 358.0,273.0Z" fill="#ff9966" stroke="#000" stroke-width="0.95" />
<path d="M551.4,212.0 L551.3,212.8 L550.9,213.5 L550.3,214.1 L549.5,214.6 L548.6,214.9 L547.6,215.0 L546.6,214.9 L545.7,214.6 L544.9,214.1 L544.3,213.5 L543.9,212.8 L543.8,212.0 L543.9,211.2 L544.3,210.5 L544.9,209.9 L545.7,209.4 L546.6,209.1 L547.6,209.0 L548.6,209.1 L549.5,209.4 L550.3,209.9 L550.9,210.5 L551.3,211.2 Z" fill="#ff9966" stroke="#000" stroke-width="0.95" />
<path d="M95.6,268.3 L95.5,269.3 L95.2,270.3 L94.6,271.1 L94.0,271.8 L93.2,272.2 L92.3,272.3 L91.4,272.2 L90.6,271.8 L90.0,271.1 L89.4,270.3 L89.1,269.3 L89.0,268.3 L89.1,267.3 L89.4,266.3 L90.0,265.5 L90.6,264.8 L91.4,264.4 L92.3,264.3 L93.2,264.4 L94.0,264.8 L94.6,265.5 L95.2,266.3 L95.5,267.3 Z" fill="#ff9966" stroke="#000" stroke-width="0.95" />
<path d="M275.0,138.0 L274.9,138.6 L274.7,139.2 L274.4,139.8 L274.0,140.2 L273.5,140.4 L273.0,140.5 L272.5,140.4 L272.0,140.2 L271.6,139.8 L271.3,139.2 L271.1,138.6 L271.0,138.0 L271.1,137.4 L271.3,136.8 L271.6,136.2 L272.0,135.8 L272.5,135.6 L273.0,135.5 L273.5,135.6 L274.0,135.8 L274.4,136.2 L274.7,136.8 L274.9,137.4 Z" fill="#ff9966" stroke="#000" stroke-width="0.95" />
<path d="M407.5,326.0 L407.4,326.6 L407.2,327.2 L406.8,327.8 L406.2,328.2 L405.6,328.4 L405.0,328.5 L404.4,328.4 L403.8,328.2 L403.2,327.8 L402.8,327.2 L402.6,326.6 L402.5,326.0 L402.6,325.4 L402.8,324.8 L403.2,324.2 L403.8,323.8 L404.4,323.6 L405.0,323.5 L405.6,323.6 L406.2,323.8 L406.8,324.2 L407.2,324.8 L407.4,325.4 Z" fill="#cc3300" stroke="#000" stroke-width="0.95" />
<path d="M64.9,256.7 C65.1,254.7 65.5,251.5 66.7,249.3 C67.9,247.1 69.8,245.1 72.3,243.7 C74.8,242.3 78.5,241.5 81.6,240.9 C84.7,240.3 88.8,241.0 91.0,239.9 C93.2,238.8 93.8,236.6 94.7,234.3 C95.7,232.1 95.2,228.8 96.7,226.4 C98.2,224.1 101.1,222.1 104.0,220.2 C106.9,218.3 110.8,216.1 114.3,215.0 C117.8,213.9 121.6,213.3 124.7,213.5 C127.8,213.7 130.6,214.7 133.0,216.0 C135.4,217.3 137.8,219.1 139.2,221.2 C140.6,223.3 141.3,226.1 141.3,228.5 C141.3,230.9 140.2,233.9 139.2,235.7 C138.1,237.4 137.1,238.0 135.0,239.0 C132.9,240.0 129.7,241.0 126.4,241.8 C123.1,242.6 118.6,242.8 115.2,243.7 C111.8,244.6 108.7,245.7 105.9,247.4 C103.1,249.1 100.6,251.7 98.4,253.9 C96.2,256.1 94.7,258.4 92.8,260.4 C90.9,262.4 89.5,264.6 87.2,266.0 C84.9,267.4 81.6,268.8 78.8,268.8 C76.0,268.8 72.6,267.2 70.4,266.0 C68.2,264.8 66.7,262.9 65.8,261.4 C64.9,259.8 64.8,258.7 64.9,256.7Z" fill="#000000" stroke="#000" stroke-width="0.95" />
<path d="M172.8,226.4 L172.6,227.5 L171.9,228.6 L170.9,229.4 L169.5,230.1 L167.9,230.6 L166.2,230.7 L164.5,230.6 L162.9,230.1 L161.5,229.4 L160.5,228.6 L159.8,227.5 L159.6,226.4 L159.8,225.3 L160.5,224.2 L161.5,223.4 L162.9,222.7 L164.5,222.2 L166.2,222.1 L167.9,222.2 L169.5,222.7 L170.9,223.4 L171.9,224.2 L172.6,225.3 Z" fill="#000000" stroke="#000" stroke-width="0.95" />
<path d="M268.2,180.3 C268.4,178.3 270.6,175.9 273.1,173.4 C275.6,170.9 279.4,168.0 283.0,165.5 C286.6,163.0 290.9,160.2 294.8,158.6 C298.7,157.0 303.0,156.0 306.6,156.0 C310.2,156.0 314.0,157.0 316.5,158.6 C319.0,160.2 320.4,163.2 321.4,165.5 C322.4,167.8 322.9,169.9 322.4,172.4 C321.9,174.9 320.8,177.8 318.5,180.3 C316.2,182.8 312.6,185.6 308.6,187.2 C304.7,188.8 299.4,189.8 294.8,190.1 C290.2,190.4 284.8,190.0 281.0,189.2 C277.2,188.4 274.2,186.7 272.1,185.2 C270.0,183.7 268.0,182.3 268.2,180.3Z" fill="#000000" stroke="#000" stroke-width="0.95" />
<path d="M583.1,127.8 L584.9,130.1 L585.9,133.2 L585.8,137.0 L584.8,141.2 L582.8,145.5 L580.1,149.6 L576.7,153.2 L573.1,156.2 L569.3,158.2 L565.6,159.2 L562.3,159.0 L559.7,157.8 L557.9,155.5 L556.9,152.4 L557.0,148.6 L558.0,144.4 L560.0,140.1 L562.7,136.0 L566.1,132.4 L569.7,129.4 L573.5,127.4 L577.2,126.4 L580.5,126.6 Z" fill="#000000" stroke="#000" stroke-width="0.95" />
<path d="M533.8,299.0 C532.6,297.9 529.0,294.6 526.6,292.4 C524.2,290.2 521.9,288.2 519.5,286.0 C517.1,283.8 513.0,280.9 512.5,279.2 C512.0,277.5 514.1,277.9 516.5,275.6 C518.9,273.3 523.2,269.3 526.6,265.5 C530.0,261.7 533.8,257.4 536.7,252.8 C539.7,248.2 542.6,242.1 544.3,237.7 C546.0,233.3 545.5,229.2 546.8,226.3 C548.1,223.4 549.5,221.7 552.0,220.0 C554.5,218.3 559.3,217.9 562.0,216.0 C564.7,214.1 568.0,211.1 568.4,208.6 C568.8,206.1 566.7,202.7 564.6,201.0 C562.5,199.3 557.4,200.0 555.7,198.5 C554.0,197.0 553.4,193.9 554.4,192.0 C555.4,190.1 559.5,187.2 562.0,187.0 C564.5,186.8 567.9,189.1 569.6,191.0 C571.3,192.9 569.9,196.4 572.0,198.5 C574.1,200.6 579.0,203.2 582.3,203.5 C585.6,203.8 588.2,202.5 592.0,200.0 C595.8,197.5 600.7,191.6 605.0,188.4 C609.3,185.2 613.1,182.9 617.8,180.8 C622.5,178.7 627.5,176.8 633.0,175.7 C638.5,174.6 645.3,174.0 650.8,174.4 C656.3,174.8 661.4,176.7 666.0,178.2 C670.6,179.7 674.4,182.7 678.6,183.3 C682.8,183.9 687.5,182.0 691.3,182.0 C695.1,182.0 698.7,182.0 701.4,183.3 C704.1,184.6 706.4,187.1 707.7,189.6 C709.0,192.1 709.6,195.6 709.0,198.5 C708.4,201.4 706.1,205.2 704.0,207.3 C701.9,209.4 698.8,210.8 696.3,211.0 C693.8,211.2 690.8,209.8 688.7,208.6 C686.6,207.3 685.8,204.8 683.7,203.5 C681.6,202.2 678.5,201.0 676.0,201.0 C673.5,201.0 670.8,201.8 668.5,203.5 C666.2,205.2 664.1,208.0 662.0,211.0 C659.9,214.0 657.7,218.3 655.8,221.3 C653.9,224.3 652.3,225.9 650.8,229.0 C649.3,232.1 647.0,236.4 647.0,240.0 C647.0,243.6 648.9,247.5 650.8,250.3 C652.7,253.1 655.4,254.9 658.4,256.6 C661.4,258.3 666.8,259.8 668.5,260.4L668.5,320.0 L534.0,320.0 Z" fill="#000000" stroke="#000" stroke-width="0.95" />
<path d="M645.0,232.8 L644.8,234.0 L644.4,235.2 L643.6,236.2 L642.6,237.0 L641.4,237.4 L640.2,237.6 L639.0,237.4 L637.8,237.0 L636.8,236.2 L636.0,235.2 L635.6,234.0 L635.4,232.8 L635.6,231.6 L636.0,230.4 L636.8,229.4 L637.8,228.6 L639.0,228.2 L640.2,228.0 L641.4,228.2 L642.6,228.6 L643.6,229.4 L644.4,230.4 L644.8,231.6 Z" fill="#663333" stroke="#000" stroke-width="0.95" />
<path d="M643.0,230.0 L649.0,229.0 L649.0,238.0 L643.0,236.0 Z" fill="#663333"  />
<path d="M415.3,280.4 L415.1,282.0 L414.5,283.5 L413.5,284.9 L412.1,285.9 L410.6,286.5 L409.0,286.7 L407.4,286.5 L405.9,285.9 L404.5,284.9 L403.5,283.5 L402.9,282.0 L402.7,280.4 L402.9,278.8 L403.5,277.2 L404.5,275.9 L405.9,274.9 L407.4,274.3 L409.0,274.1 L410.6,274.3 L412.1,274.9 L413.5,275.9 L414.5,277.2 L415.1,278.8 Z" fill="#000000" stroke="#000" stroke-width="0.95" />
<path d="M629.8,73.4 L629.7,74.6 L629.3,75.8 L628.7,76.8 L627.9,77.6 L627.0,78.0 L626.0,78.2 L625.0,78.0 L624.1,77.6 L623.3,76.8 L622.7,75.8 L622.3,74.6 L622.2,73.4 L622.3,72.2 L622.7,71.0 L623.3,70.0 L624.1,69.2 L625.0,68.8 L626.0,68.6 L627.0,68.8 L627.9,69.2 L628.7,70.0 L629.3,71.0 L629.7,72.2 Z" fill="#000000" stroke="#000" stroke-width="0.95" />
<path d="M236.8,193.3 L236.7,193.7 L236.5,194.1 L236.1,194.4 L235.6,194.7 L235.0,194.8 L234.4,194.9 L233.8,194.8 L233.2,194.7 L232.7,194.4 L232.3,194.1 L232.1,193.7 L232.0,193.3 L232.1,192.9 L232.3,192.5 L232.7,192.2 L233.2,191.9 L233.8,191.8 L234.4,191.7 L235.0,191.8 L235.6,191.9 L236.1,192.2 L236.5,192.5 L236.7,192.9 Z" fill="#000000" stroke="#000" stroke-width="0.95" />
<path d="M16.7,82.8 C16.8,80.5 20.0,76.5 22.0,74.0 C24.0,71.5 26.0,67.9 28.9,67.6 C31.8,67.3 36.5,70.2 39.5,72.2 C42.5,74.2 46.1,77.5 47.1,79.8 C48.1,82.1 47.9,84.3 45.6,85.8 C43.3,87.3 37.4,88.5 33.4,88.9 C29.3,89.3 24.1,89.0 21.3,88.0 C18.5,87.0 16.6,85.1 16.7,82.8Z" fill="#ffff00" stroke="#000" stroke-width="0.95" />
<path d="M22.8,76.7 C23.3,75.0 26.9,71.1 28.9,70.6 C30.9,70.1 34.2,72.2 35.0,73.7 C35.8,75.2 34.9,78.6 33.4,79.8 C31.9,81.0 27.6,81.2 25.8,80.7 C24.0,80.2 22.3,78.4 22.8,76.7Z" fill="#ff9966" stroke="#000" stroke-width="0.95" />
<path d="M62.0,78.5 C62.1,76.8 63.2,75.1 64.5,74.0 C65.8,72.9 68.1,72.0 70.0,71.8 C71.9,71.5 74.8,71.8 76.0,72.5 C77.2,73.2 78.0,74.4 77.0,76.0 C76.0,77.6 72.2,80.7 70.0,82.0 C67.8,83.3 65.3,84.6 64.0,84.0 C62.7,83.4 61.9,80.2 62.0,78.5Z" fill="#ffff00" stroke="#000" stroke-width="0.95" />
<path d="M168.3,246.0 C169.1,244.2 171.7,242.7 174.5,242.0 C177.3,241.3 182.2,241.2 184.9,242.0 C187.7,242.8 189.8,244.8 191.0,247.0 C192.2,249.2 192.8,253.2 192.0,255.5 C191.2,257.8 188.0,260.0 186.0,261.0 C184.0,262.0 181.9,262.0 180.0,261.5 C178.1,261.0 176.4,259.4 174.7,258.0 C173.0,256.6 170.7,254.8 169.6,252.8 C168.5,250.8 167.5,247.8 168.3,246.0Z" fill="#ffff00" stroke="#000" stroke-width="0.95" />
<path d="M268.8,239.5 L268.8,241.5 L268.1,243.5 L266.8,245.3 L264.9,246.9 L262.6,248.1 L260.0,248.8 L257.3,249.0 L254.8,248.7 L252.5,247.9 L250.6,246.6 L249.2,245.0 L248.6,243.1 L248.6,241.1 L249.3,239.1 L250.6,237.3 L252.5,235.7 L254.8,234.5 L257.4,233.8 L260.1,233.6 L262.6,233.9 L264.9,234.7 L266.8,236.0 L268.2,237.6 Z" fill="#ffff00" stroke="#000" stroke-width="0.95" />
<path d="M396.0,191.7 L395.6,195.7 L394.3,199.4 L392.2,202.7 L389.5,205.1 L386.4,206.7 L383.0,207.2 L379.6,206.7 L376.5,205.1 L373.8,202.7 L371.7,199.4 L370.4,195.7 L370.0,191.7 L370.4,187.7 L371.7,183.9 L373.8,180.7 L376.5,178.3 L379.6,176.7 L383.0,176.2 L386.4,176.7 L389.5,178.3 L392.2,180.7 L394.3,183.9 L395.6,187.7 Z" fill="#ffff00" stroke="#000" stroke-width="0.95" />
<path d="M388.0,198.5 L387.8,200.3 L387.1,202.0 L385.9,203.4 L384.5,204.6 L382.8,205.3 L381.0,205.5 L379.2,205.3 L377.5,204.6 L376.1,203.4 L374.9,202.0 L374.2,200.3 L374.0,198.5 L374.2,196.7 L374.9,195.0 L376.1,193.6 L377.5,192.4 L379.2,191.7 L381.0,191.5 L382.8,191.7 L384.5,192.4 L385.9,193.6 L387.1,195.0 L387.8,196.7 Z" fill="#ffffff" stroke="#000" stroke-width="0.95" />
<path d="M435.0,223.8 L434.8,225.1 L434.3,226.3 L433.5,227.3 L432.5,228.1 L431.3,228.6 L430.0,228.8 L428.7,228.6 L427.5,228.1 L426.5,227.3 L425.7,226.3 L425.2,225.1 L425.0,223.8 L425.2,222.5 L425.7,221.3 L426.5,220.3 L427.5,219.5 L428.7,219.0 L430.0,218.8 L431.3,219.0 L432.5,219.5 L433.5,220.3 L434.3,221.3 L434.8,222.5 Z" fill="#ffff00" stroke="#000" stroke-width="0.95" />
<path d="M349.9,204.8 L349.8,205.4 L349.6,206.0 L349.2,206.4 L348.8,206.8 L348.2,207.0 L347.6,207.1 L347.0,207.0 L346.5,206.8 L346.0,206.4 L345.6,206.0 L345.4,205.4 L345.3,204.8 L345.4,204.2 L345.6,203.7 L346.0,203.2 L346.5,202.8 L347.0,202.6 L347.6,202.5 L348.2,202.6 L348.8,202.8 L349.2,203.2 L349.6,203.7 L349.8,204.2 Z" fill="#ffff00" stroke="#000" stroke-width="0.95" />
<path d="M142.0,196.0 L141.9,196.6 L141.7,197.1 L141.3,197.6 L140.8,197.9 L140.2,198.1 L139.6,198.2 L139.0,198.1 L138.4,197.9 L137.9,197.6 L137.5,197.1 L137.3,196.6 L137.2,196.0 L137.3,195.4 L137.5,194.9 L137.9,194.4 L138.4,194.1 L139.0,193.9 L139.6,193.8 L140.2,193.9 L140.8,194.1 L141.3,194.4 L141.7,194.9 L141.9,195.4 Z" fill="#ffff00" stroke="#000" stroke-width="0.95" />
<path d="M232.8,249.0 L232.7,249.5 L232.6,249.9 L232.3,250.3 L231.9,250.6 L231.5,250.7 L231.0,250.8 L230.5,250.7 L230.1,250.6 L229.7,250.3 L229.4,249.9 L229.3,249.5 L229.2,249.0 L229.3,248.5 L229.4,248.1 L229.7,247.7 L230.1,247.4 L230.5,247.3 L231.0,247.2 L231.5,247.3 L231.9,247.4 L232.3,247.7 L232.6,248.1 L232.7,248.5 Z" fill="#ffff00" stroke="#000" stroke-width="0.95" />
<path d="M38.0,28.0 C37.3,26.8 37.8,27.1 41.0,25.5 C44.2,23.9 52.3,19.7 57.0,18.5 C61.7,17.3 65.7,17.1 69.0,18.5 C72.3,19.9 76.8,24.6 77.0,27.0 C77.2,29.4 72.3,31.2 70.0,33.0 C67.7,34.8 65.5,36.6 63.0,37.5 C60.5,38.4 58.0,39.2 55.0,38.5 C52.0,37.8 47.8,34.8 45.0,33.0 C42.2,31.2 38.7,29.2 38.0,28.0Z" fill="#99ff00" stroke="#000" stroke-width="0.95" />
<path d="M225.3,67.3 C227.0,65.6 232.0,64.4 235.4,62.7 C238.8,61.0 241.9,59.2 245.6,57.2 C249.3,55.2 254.7,52.0 257.7,50.5 C260.7,49.0 262.6,48.0 263.8,48.1 C265.0,48.2 265.1,49.9 264.8,51.1 C264.5,52.3 264.0,53.5 261.8,55.2 C259.6,56.9 255.3,59.1 251.6,61.3 C247.9,63.5 243.6,66.6 239.5,68.4 C235.4,70.2 229.7,71.6 227.3,72.4 C224.9,73.2 225.3,73.8 225.0,73.0 C224.7,72.2 223.6,69.0 225.3,67.3Z" fill="#99ff00" stroke="#000" stroke-width="0.95" />
<path d="M236.0,65.5 C237.0,64.5 242.5,61.9 246.0,60.0 C249.5,58.1 254.7,55.1 257.0,54.0 C259.3,52.9 261.2,52.5 260.0,53.5 C258.8,54.5 253.3,57.9 250.0,60.0 C246.7,62.1 242.3,65.1 240.0,66.0 C237.7,66.9 235.0,66.5 236.0,65.5Z" fill="#33cc66"  />
<path d="M19.6,120.5 C20.4,119.4 23.2,117.9 25.2,117.7 C27.2,117.5 29.7,118.0 31.7,119.6 C33.7,121.1 35.8,124.4 37.3,127.0 C38.8,129.6 40.5,132.9 41.0,135.4 C41.5,137.9 40.9,140.8 40.1,142.0 C39.3,143.2 37.9,143.5 36.4,142.9 C34.9,142.3 32.8,140.2 30.8,138.2 C28.8,136.2 26.0,133.1 24.3,130.8 C22.6,128.5 21.3,126.0 20.5,124.3 C19.7,122.6 18.8,121.6 19.6,120.5Z" fill="#99ff00" stroke="#000" stroke-width="0.95" />
<path d="M30.0,188.0 C31.2,185.0 32.4,187.0 34.2,186.2 C36.0,185.4 38.4,183.7 41.0,183.0 C43.6,182.3 47.1,181.6 49.8,181.8 C52.5,182.0 55.2,182.9 57.3,184.3 C59.4,185.7 61.3,188.2 62.3,190.0 C63.3,191.8 63.7,192.9 63.5,195.0 C63.3,197.1 62.2,200.1 61.0,202.4 C59.8,204.7 57.9,206.8 56.0,208.6 C54.1,210.4 51.9,212.1 49.8,213.0 C47.7,213.9 45.7,214.5 43.6,214.2 C41.5,213.9 39.5,212.3 37.4,211.1 C35.3,209.8 32.8,207.9 31.1,206.7 C29.4,205.5 27.2,207.1 27.0,204.0 C26.8,200.9 28.8,191.0 30.0,188.0Z" fill="#99ff00" stroke="#000" stroke-width="0.95" />
<path d="M36.0,199.0 C36.3,197.4 38.6,195.5 39.9,194.3 C41.2,193.1 42.0,192.4 43.6,191.8 C45.2,191.2 47.9,190.9 49.8,191.0 C51.7,191.1 53.5,191.4 54.8,192.4 C56.0,193.4 57.0,195.1 57.3,196.8 C57.6,198.5 57.5,200.8 56.7,202.4 C55.9,204.1 53.9,205.8 52.3,206.7 C50.7,207.6 49.0,208.1 47.3,208.0 C45.6,207.9 43.8,206.8 42.3,206.1 C40.8,205.4 39.0,205.2 38.0,204.0 C37.0,202.8 35.7,200.6 36.0,199.0Z" fill="#33cc66" stroke="#000" stroke-width="0.95" />
<path d="M44.0,199.0 C45.3,197.9 48.1,196.4 49.8,196.2 C51.5,196.0 53.3,197.1 54.2,198.0 C55.1,198.9 55.6,200.6 55.4,201.8 C55.2,203.1 54.1,204.6 52.9,205.5 C51.7,206.4 49.5,207.4 48.0,207.4 C46.5,207.4 44.6,206.2 43.6,205.5 C42.6,204.8 41.9,204.1 42.0,203.0 C42.1,201.9 42.7,200.1 44.0,199.0Z" fill="#339966" stroke="#000" stroke-width="0.95" />
</g>
<path d="M26.6,141.5 C28.8,140.7 35.7,137.7 40.0,136.5 C44.3,135.3 48.2,134.6 52.2,134.4 C56.2,134.2 62.1,133.9 64.3,135.4 C66.5,136.9 65.6,140.6 65.3,143.5 C65.0,146.4 61.4,150.7 62.3,152.7 C63.1,154.7 66.4,154.7 70.4,155.7 C74.5,156.7 82.9,157.2 86.6,158.7 C90.3,160.2 90.7,162.8 92.7,164.8 C94.7,166.8 96.4,170.1 98.7,170.9 C101.0,171.8 104.9,170.9 106.8,169.9 C108.7,168.9 110.1,166.7 109.9,164.8 C109.7,162.9 106.2,161.1 105.8,158.7 C105.4,156.3 107.6,153.6 107.8,150.6 C108.0,147.6 106.3,143.2 106.8,140.5 C107.3,137.8 109.2,134.9 110.9,134.4 C112.6,133.9 114.3,137.2 117.0,137.5 C119.7,137.8 124.6,138.0 127.1,136.5 C129.6,135.0 130.2,130.6 132.2,128.4 C134.2,126.2 136.3,123.1 139.2,123.3 C142.1,123.5 146.0,127.7 149.4,129.4 C152.8,131.1 157.5,131.1 159.5,133.4 C161.5,135.8 159.8,141.0 161.5,143.5 C163.2,146.0 166.6,147.8 169.6,148.6 C172.6,149.4 177.7,150.6 179.7,148.6 C181.7,146.6 182.1,140.6 181.8,136.5 C181.5,132.4 178.0,127.8 177.7,124.3 C177.3,120.8 177.7,117.0 179.7,115.2 C181.7,113.4 187.5,114.4 189.9,113.2 C192.3,112.0 192.2,109.1 193.9,108.1 C195.6,107.1 198.3,108.3 200.0,107.0 C201.7,105.7 202.8,102.7 204.0,100.0 C205.2,97.3 207.0,94.0 207.0,90.6 C207.0,87.2 204.5,81.3 204.0,79.5" fill="none" stroke="#8c8c8c" stroke-width="1"/>
<path d="M196.0,126.8 C196.9,127.3 197.4,129.0 201.6,129.6 C205.8,130.2 216.2,130.1 221.2,130.5 C226.2,130.9 229.5,130.9 231.8,131.8 C234.1,132.7 233.8,134.6 234.9,136.1 C236.0,137.6 237.2,140.3 238.6,141.1 C240.0,141.9 242.7,141.9 243.6,141.1 C244.5,140.3 244.4,138.2 244.2,136.1 C244.0,134.0 242.6,131.0 242.4,128.7 C242.2,126.4 242.2,124.0 243.0,122.4 C243.8,120.8 244.9,119.6 247.3,119.3 C249.7,119.0 254.4,120.3 257.3,120.6 C260.2,120.9 262.7,122.1 264.8,121.2 C266.9,120.3 268.1,116.2 269.8,115.0 C271.5,113.8 272.5,113.5 275.0,113.7 C277.5,113.9 281.2,115.2 284.9,116.4 C288.6,117.6 295.1,121.6 297.4,120.6 C299.6,119.6 298.1,113.5 298.4,110.2 C298.7,106.9 297.8,103.3 299.4,100.8 C300.9,98.3 303.2,95.4 307.7,95.2 C312.2,95.0 320.5,99.5 326.4,99.8 C332.3,100.0 338.5,97.7 343.0,96.7 C347.5,95.7 351.0,93.2 353.4,93.6 C355.8,93.9 357.9,96.4 357.5,98.8 C357.1,101.2 353.2,105.5 351.3,108.1 C349.4,110.7 346.8,111.9 346.1,114.3 C345.4,116.7 345.3,120.7 347.2,122.6 C349.1,124.5 354.1,124.0 357.5,125.7 C360.9,127.4 364.8,130.4 367.9,133.0 C371.0,135.6 373.4,138.9 376.2,141.3 C379.0,143.7 381.0,146.5 384.5,147.5 C388.0,148.5 394.2,148.5 397.0,147.5 C399.8,146.5 397.3,142.7 401.1,141.3 C404.9,139.9 416.0,139.8 420.0,139.2 C424.0,138.6 424.4,137.9 425.3,137.7" fill="none" stroke="#8c8c8c" stroke-width="1"/>
<path d="M179.7,148.6 C181.0,149.3 186.1,150.7 187.8,152.7 C189.5,154.7 187.6,158.4 189.9,160.8 C192.2,163.2 197.5,165.2 201.6,167.0 C205.7,168.8 211.3,169.6 214.7,171.6 C218.1,173.6 219.8,176.5 222.0,179.0 C224.2,181.5 227.0,184.0 227.7,186.5 C228.3,189.0 227.8,192.1 225.9,194.0 C224.0,195.9 219.3,197.1 216.5,197.7 C213.7,198.3 210.4,196.2 209.0,197.7 C207.6,199.2 207.0,203.3 208.0,206.5 C209.0,209.7 212.0,212.9 215.2,216.6 C218.4,220.3 222.9,224.6 227.3,228.7 C231.7,232.8 237.1,237.2 241.5,240.9 C245.9,244.6 250.1,247.3 253.7,251.0 C257.3,254.7 260.4,259.3 263.3,263.0 C266.2,266.7 267.1,269.8 270.9,273.0 C274.7,276.2 280.9,279.7 286.0,282.0 C291.1,284.3 296.6,286.4 301.3,287.0 C306.0,287.6 309.8,287.1 314.0,285.8 C318.2,284.5 322.6,282.4 326.6,279.4 C330.6,276.4 333.8,270.5 338.0,268.0 C342.2,265.5 349.3,266.7 352.0,264.2 C354.7,261.7 352.3,255.3 354.4,252.8 C356.5,250.3 360.8,249.2 364.6,249.0 C368.4,248.8 373.8,252.2 377.2,251.6 C380.6,251.0 383.3,247.6 384.8,245.3 C386.3,243.0 383.2,240.9 386.0,238.0 C388.8,235.1 397.7,231.2 401.6,228.0 C405.5,224.8 405.8,222.1 409.4,218.7 C413.0,215.3 417.8,212.0 423.4,207.8 C429.0,203.6 436.4,197.5 443.0,193.4 C449.6,189.3 456.6,187.1 463.3,183.3 C470.1,179.5 477.6,174.8 483.5,170.6 C489.4,166.4 495.7,162.8 498.7,158.0 C501.7,153.2 500.9,144.2 501.3,141.5" fill="none" stroke="#8c8c8c" stroke-width="1"/>
<path d="M98.7,282.0 C100.0,280.5 102.9,275.8 106.3,273.0 C109.7,270.2 114.3,269.3 119.0,265.5 C123.7,261.7 129.1,255.4 134.2,250.3 C139.3,245.2 144.8,239.2 149.4,235.0 C154.0,230.8 158.8,227.1 162.0,225.0 C165.2,222.9 164.8,222.4 168.3,222.3 C171.8,222.2 178.3,225.0 182.8,224.3 C187.3,223.6 191.2,220.0 195.3,218.1 C199.5,216.2 205.4,215.1 207.7,212.9 C210.0,210.7 208.8,206.3 209.0,205.0" fill="none" stroke="#8c8c8c" stroke-width="1"/>
<path d="M330.0,276.3 C331.8,274.8 337.3,268.6 340.9,267.0 C344.5,265.4 349.7,269.1 351.8,267.0 C353.9,264.9 353.1,256.6 353.3,254.5" fill="none" stroke="#8c8c8c" stroke-width="1"/>
<path d="M425.3,137.7 C426.6,136.0 429.6,129.5 433.0,127.6 C436.4,125.7 440.1,125.0 445.6,126.3 C451.1,127.6 459.1,133.5 465.8,135.2 C472.5,136.9 480.1,135.4 486.0,136.5 C491.9,137.6 495.4,141.1 501.3,141.5 C507.2,141.9 513.0,140.2 521.5,139.0 C530.0,137.8 542.7,135.5 552.0,134.0 C561.3,132.5 570.5,131.1 577.2,130.0 C583.9,128.9 589.0,129.3 592.4,127.6 C595.8,125.9 595.4,121.7 597.5,120.0 C599.6,118.3 599.9,118.3 605.0,117.7 C610.1,117.1 622.5,117.5 628.0,116.5 C633.5,115.5 635.5,114.0 638.0,111.4 C640.5,108.8 641.9,105.2 643.0,101.0 C644.1,96.8 643.7,90.6 644.4,86.0 C645.1,81.4 645.3,76.8 647.0,73.4 C648.7,70.0 653.5,68.4 654.5,65.8 C655.5,63.2 653.2,59.3 653.0,58.0" fill="none" stroke="#8c8c8c" stroke-width="1"/>
<path d="M420.3,211.0 C422.0,212.7 428.3,217.5 430.4,221.3 C432.5,225.1 429.6,231.3 433.0,234.0 C436.4,236.7 445.6,237.1 450.6,237.7 C455.7,238.3 460.6,237.3 463.3,237.7 C466.0,238.1 466.6,237.7 467.0,240.2 C467.4,242.7 468.1,248.6 465.8,252.8 C463.5,257.0 456.6,261.3 453.2,265.5 C449.8,269.7 446.7,274.0 445.6,278.2 C444.5,282.4 446.2,287.0 446.8,290.8 C447.4,294.6 449.0,299.3 449.4,301.0" fill="none" stroke="#8c8c8c" stroke-width="1"/>
<path d="M467.0,240.2 C469.8,240.6 477.8,242.3 483.5,242.7 C489.2,243.1 495.4,242.9 501.3,242.7 C507.2,242.5 513.5,242.6 519.0,241.5 C524.5,240.4 529.1,239.3 534.2,236.4 C539.3,233.5 543.1,227.8 549.4,223.8 C555.7,219.8 565.2,214.1 572.0,212.4 C578.8,210.7 582.8,212.8 590.0,213.7 C597.2,214.5 607.7,216.2 615.3,217.5 C622.9,218.8 630.3,219.4 635.6,221.3 C640.9,223.2 644.9,225.8 647.0,229.0 C649.1,232.2 647.2,236.6 648.2,240.2 C649.2,243.8 650.8,247.3 653.3,250.3 C655.8,253.3 660.2,256.1 663.4,258.0 C666.6,259.9 670.8,261.1 672.3,261.7" fill="none" stroke="#8c8c8c" stroke-width="1"/>
<path d="M678.6,180.8 C680.1,179.8 687.5,177.4 691.3,177.0 C695.1,176.6 700.6,177.4 701.4,178.2 C702.2,179.0 698.4,180.9 696.3,182.0 C694.2,183.1 690.8,183.3 688.7,184.6 C686.6,185.9 684.5,187.7 683.7,189.6 C682.9,191.5 682.4,194.3 683.7,196.0 C685.0,197.7 690.2,198.0 691.3,199.7 C692.3,201.4 691.0,204.1 690.0,206.0 C689.0,207.9 687.1,210.3 685.0,211.0 C682.9,211.7 679.6,210.6 677.3,210.0 C675.0,209.4 672.9,207.5 671.0,207.3 C669.1,207.1 668.1,209.0 666.0,208.6 C663.9,208.2 660.9,205.7 658.4,204.8 C655.9,204.0 651.4,204.6 650.8,203.5 C650.1,202.4 653.5,200.4 654.5,198.5 C655.5,196.6 655.1,193.7 657.0,192.0 C658.9,190.3 662.8,189.2 666.0,188.4 C669.2,187.6 673.3,187.8 676.0,187.0 C678.7,186.2 682.0,184.3 682.4,183.3 C682.8,182.3 677.1,181.9 678.6,180.8Z" fill="none" stroke="#000080" stroke-width="0.9"/>
<path d="M649.2,180.8 L649.1,181.2 L649.0,181.6 L648.8,181.9 L648.5,182.1 L648.1,182.2 L647.7,182.3 L647.3,182.2 L647.0,182.1 L646.6,181.9 L646.4,181.6 L646.3,181.2 L646.2,180.8 L646.3,180.4 L646.4,180.1 L646.6,179.7 L647.0,179.5 L647.3,179.4 L647.7,179.3 L648.1,179.4 L648.5,179.5 L648.8,179.7 L649.0,180.1 L649.1,180.4 Z" fill="none" stroke="#000080" stroke-width="0.9"/>
<path d="M651.0,186.3 L650.9,186.7 L650.8,187.1 L650.6,187.4 L650.2,187.6 L649.9,187.7 L649.5,187.8 L649.1,187.7 L648.8,187.6 L648.4,187.4 L648.2,187.1 L648.1,186.7 L648.0,186.3 L648.1,185.9 L648.2,185.6 L648.4,185.2 L648.8,185.0 L649.1,184.9 L649.5,184.8 L649.9,184.9 L650.2,185.0 L650.6,185.2 L650.8,185.6 L650.9,185.9 Z" fill="none" stroke="#000080" stroke-width="0.9"/>
<path d="M703.9,191.0 L703.8,191.6 L703.6,192.2 L703.2,192.8 L702.6,193.2 L702.0,193.4 L701.4,193.5 L700.8,193.4 L700.1,193.2 L699.6,192.8 L699.2,192.2 L699.0,191.6 L698.9,191.0 L699.0,190.4 L699.2,189.8 L699.6,189.2 L700.1,188.8 L700.8,188.6 L701.4,188.5 L702.0,188.6 L702.6,188.8 L703.2,189.2 L703.6,189.8 L703.8,190.4 Z" fill="none" stroke="#000080" stroke-width="0.9"/>
<path d="M295.0,177.7 C295.8,177.7 297.9,177.7 298.7,179.5 C299.5,181.3 298.9,185.7 300.0,188.4 C301.1,191.2 303.5,193.7 305.0,196.0 C306.5,198.3 308.9,200.4 308.9,202.3 C308.9,204.2 306.7,206.9 305.0,207.3 C303.3,207.7 301.0,205.9 298.7,204.8 C296.4,203.8 292.9,202.5 291.0,201.0 C289.1,199.5 287.5,197.9 287.3,196.0 C287.1,194.1 288.7,191.5 290.0,189.6 C291.3,187.7 294.4,186.3 295.0,184.6 C295.6,182.9 293.7,180.7 293.7,179.5 C293.7,178.3 294.2,177.7 295.0,177.7Z" fill="none" stroke="#000080" stroke-width="0.9"/>
<path d="M302.5,170.6 C303.1,170.2 303.8,170.5 306.3,172.0 C308.8,173.5 316.0,177.8 317.7,179.5 C319.4,181.2 318.2,182.4 316.5,182.0 C314.8,181.6 309.9,178.3 307.6,177.0 C305.3,175.7 303.4,175.5 302.5,174.4 C301.6,173.3 301.9,171.0 302.5,170.6Z" fill="none" stroke="#000080" stroke-width="0.9"/>
<path d="M289.8,180.0 L289.8,180.3 L289.6,180.6 L289.4,180.8 L289.2,181.0 L288.9,181.2 L288.6,181.2 L288.3,181.2 L288.0,181.0 L287.8,180.8 L287.6,180.6 L287.4,180.3 L287.4,180.0 L287.4,179.7 L287.6,179.4 L287.8,179.2 L288.0,179.0 L288.3,178.8 L288.6,178.8 L288.9,178.8 L289.2,179.0 L289.4,179.2 L289.6,179.4 L289.8,179.7 Z" fill="none" stroke="#000080" stroke-width="0.9"/>
<path d="M287.9,205.5 L287.5,206.2 L287.1,206.8 L286.6,207.3 L286.1,207.6 L285.5,207.7 L285.0,207.6 L284.5,207.3 L284.2,206.9 L283.9,206.3 L283.9,205.6 L283.9,204.9 L284.1,204.1 L284.5,203.4 L284.9,202.8 L285.4,202.3 L285.9,202.0 L286.5,201.9 L287.0,202.0 L287.5,202.3 L287.8,202.7 L288.1,203.3 L288.1,204.0 L288.1,204.7 Z" fill="none" stroke="#000080" stroke-width="0.9"/>
<path d="M280.0,208.0 L280.0,208.4 L279.9,208.8 L279.7,209.1 L279.5,209.3 L279.3,209.4 L279.0,209.5 L278.7,209.4 L278.5,209.3 L278.3,209.1 L278.1,208.8 L278.0,208.4 L278.0,208.0 L278.0,207.6 L278.1,207.2 L278.3,206.9 L278.5,206.7 L278.7,206.6 L279.0,206.5 L279.3,206.6 L279.5,206.7 L279.7,206.9 L279.9,207.2 L280.0,207.6 Z" fill="none" stroke="#000080" stroke-width="0.9"/>
<path d="M339.5,174.4 L339.4,174.7 L339.3,175.0 L339.1,175.2 L338.8,175.4 L338.4,175.6 L338.0,175.6 L337.6,175.6 L337.2,175.4 L336.9,175.2 L336.7,175.0 L336.6,174.7 L336.5,174.4 L336.6,174.1 L336.7,173.8 L336.9,173.6 L337.2,173.4 L337.6,173.2 L338.0,173.2 L338.4,173.2 L338.8,173.4 L339.1,173.6 L339.3,173.8 L339.4,174.1 Z" fill="none" stroke="#000080" stroke-width="0.9"/>
<path d="M213.4,199.2 L213.3,199.8 L212.9,200.4 L212.4,200.9 L211.7,201.3 L210.9,201.5 L210.0,201.6 L209.1,201.5 L208.3,201.3 L207.6,200.9 L207.1,200.4 L206.7,199.8 L206.6,199.2 L206.7,198.6 L207.1,198.0 L207.6,197.5 L208.3,197.1 L209.1,196.9 L210.0,196.8 L210.9,196.9 L211.7,197.1 L212.4,197.5 L212.9,198.0 L213.3,198.6 Z" fill="none" stroke="#000080" stroke-width="0.9"/>
<path d="M223.7,205.3 L223.6,205.9 L223.2,206.4 L222.5,206.9 L221.7,207.2 L220.7,207.4 L219.7,207.5 L218.7,207.4 L217.7,207.2 L216.9,206.9 L216.2,206.4 L215.8,205.9 L215.7,205.3 L215.8,204.7 L216.2,204.2 L216.9,203.7 L217.7,203.4 L218.7,203.2 L219.7,203.1 L220.7,203.2 L221.7,203.4 L222.5,203.7 L223.2,204.2 L223.6,204.7 Z" fill="none" stroke="#000080" stroke-width="0.9"/>
<path d="M238.9,213.7 L238.9,214.6 L238.7,215.4 L238.5,216.2 L238.2,216.7 L237.9,217.1 L237.5,217.2 L237.1,217.1 L236.8,216.7 L236.5,216.2 L236.3,215.4 L236.1,214.6 L236.1,213.7 L236.1,212.8 L236.3,211.9 L236.5,211.2 L236.8,210.7 L237.1,210.3 L237.5,210.2 L237.9,210.3 L238.2,210.7 L238.5,211.2 L238.7,211.9 L238.9,212.8 Z" fill="none" stroke="#000080" stroke-width="0.9"/>
<path d="M198.5,207.8 L198.6,208.2 L198.6,208.7 L198.5,209.2 L198.2,209.6 L197.8,210.0 L197.3,210.4 L196.8,210.6 L196.2,210.8 L195.7,210.8 L195.2,210.7 L194.8,210.5 L194.5,210.2 L194.4,209.8 L194.4,209.3 L194.5,208.8 L194.8,208.4 L195.2,208.0 L195.7,207.6 L196.2,207.4 L196.8,207.2 L197.3,207.2 L197.8,207.3 L198.2,207.5 Z" fill="none" stroke="#000080" stroke-width="0.9"/>
<path d="M194.0,218.6 C195.0,217.6 197.2,216.9 198.0,217.6 C198.8,218.3 199.0,221.2 199.0,222.7 C199.0,224.2 197.7,225.3 198.0,226.7 C198.3,228.0 200.7,229.1 201.0,230.8 C201.3,232.5 200.8,235.6 200.0,236.8 C199.2,238.0 197.2,238.3 196.0,237.8 C194.8,237.3 193.2,235.3 193.0,233.8 C192.8,232.3 195.2,230.4 195.0,228.7 C194.8,227.0 192.2,225.4 192.0,223.7 C191.8,222.0 193.0,219.6 194.0,218.6Z" fill="none" stroke="#000080" stroke-width="0.9"/>
<path d="M214.2,235.8 C215.0,234.9 217.7,233.9 219.2,234.4 C220.7,234.9 222.0,237.0 223.3,238.9 C224.7,240.8 226.0,244.4 227.3,246.0 C228.6,247.6 231.3,247.8 231.0,248.6 C230.7,249.4 226.9,250.3 225.3,251.0 C223.7,251.7 222.1,251.9 221.3,253.0 C220.5,254.1 220.7,257.5 220.3,257.5 C219.9,257.5 219.3,255.1 218.8,253.0 C218.3,250.9 218.0,247.2 217.2,245.0 C216.4,242.8 214.7,241.4 214.2,239.9 C213.7,238.4 213.4,236.7 214.2,235.8Z" fill="none" stroke="#000080" stroke-width="0.9"/>
<path d="M505.0,184.6 C505.6,183.8 507.8,179.3 508.9,179.5 C510.0,179.7 509.7,184.3 511.4,185.8 C513.1,187.3 515.6,187.8 519.0,188.4 C522.4,189.0 527.8,189.2 531.6,189.6 C535.4,190.0 539.3,191.4 541.8,191.0 C544.3,190.6 546.8,188.5 546.8,187.0 C546.8,185.5 540.9,181.9 541.8,182.0 C542.7,182.1 551.4,185.9 552.0,187.8 C552.6,189.7 545.0,191.8 545.6,193.4 C546.2,195.0 555.1,196.1 555.7,197.2 C556.3,198.2 552.4,199.1 549.4,199.7 C546.4,200.3 539.3,199.9 538.0,201.0 C536.7,202.1 542.0,204.5 541.8,206.0 C541.6,207.5 537.6,209.3 536.7,210.0" fill="none" stroke="#000080" stroke-width="0.9"/>
<path d="M511.4,189.6 C509.7,190.7 503.8,193.7 501.3,196.0 C498.8,198.3 496.2,201.0 496.2,203.5 C496.2,206.0 498.3,209.3 501.3,211.0 C504.3,212.7 510.2,212.6 514.0,213.7 C517.8,214.8 521.3,215.8 524.0,217.5 C526.7,219.2 529.8,221.1 530.4,223.8 C531.0,226.6 528.9,231.0 527.8,234.0 C526.7,237.0 524.2,242.2 524.0,242.0 C523.8,241.8 527.4,232.9 526.6,232.6 C525.8,232.3 518.6,238.3 519.0,240.2 C519.4,242.1 529.8,242.3 529.0,244.0 C528.2,245.7 517.4,249.9 514.0,250.3 C510.6,250.7 511.4,246.9 508.9,246.5 C506.3,246.1 500.0,246.3 498.7,247.8 C497.4,249.3 499.2,253.7 501.3,255.4 C503.4,257.1 508.9,258.9 511.4,258.0 C513.9,257.1 515.6,251.6 516.5,250.3" fill="none" stroke="#000080" stroke-width="0.9"/>
<path d="M507.0,186.0 C507.6,185.2 509.5,180.8 510.5,181.0 C511.5,181.2 511.4,186.0 513.0,187.5 C514.6,189.0 517.0,189.3 520.0,190.0 C523.0,190.7 527.5,191.0 531.0,191.5 C534.5,192.0 539.3,192.8 541.0,193.0" fill="none" stroke="#000080" stroke-width="0.9"/>
<path d="M513.0,191.0 C511.3,192.0 505.5,194.9 503.0,197.0 C500.5,199.1 498.0,201.4 498.0,203.5 C498.0,205.6 500.2,208.1 503.0,209.5 C505.8,210.9 511.2,210.9 515.0,212.0 C518.8,213.1 522.7,214.2 525.5,216.0 C528.3,217.8 531.3,220.0 532.0,223.0 C532.7,226.0 529.9,232.2 529.5,234.0" fill="none" stroke="#000080" stroke-width="0.9"/>
<path d="M90.6,116.6 L90.5,117.4 L90.1,118.1 L89.4,118.7 L88.6,119.2 L87.6,119.5 L86.6,119.6 L85.6,119.5 L84.6,119.2 L83.8,118.7 L83.1,118.1 L82.7,117.4 L82.6,116.6 L82.7,115.8 L83.1,115.1 L83.8,114.5 L84.6,114.0 L85.6,113.7 L86.6,113.6 L87.6,113.7 L88.6,114.0 L89.4,114.5 L90.1,115.1 L90.5,115.8 Z" fill="none" stroke="#000080" stroke-width="0.9"/>
<path d="M115.8,119.8 L115.5,120.5 L114.8,121.0 L113.9,121.3 L112.8,121.5 L111.5,121.4 L110.3,121.2 L109.0,120.8 L108.0,120.2 L107.1,119.5 L106.5,118.7 L106.1,118.0 L106.2,117.2 L106.5,116.5 L107.2,116.0 L108.1,115.7 L109.2,115.5 L110.5,115.6 L111.7,115.8 L113.0,116.2 L114.0,116.8 L114.9,117.5 L115.5,118.3 L115.9,119.0 Z" fill="none" stroke="#000080" stroke-width="0.9"/>
<path d="M156.2,107.7 L156.0,108.3 L155.3,108.9 L154.1,109.4 L152.7,109.8 L151.0,110.0 L149.2,110.1 L147.4,110.0 L145.7,109.8 L144.3,109.4 L143.1,108.9 L142.4,108.3 L142.2,107.7 L142.4,107.1 L143.1,106.5 L144.3,106.0 L145.7,105.6 L147.4,105.4 L149.2,105.3 L151.0,105.4 L152.7,105.6 L154.1,106.0 L155.3,106.5 L156.0,107.1 Z" fill="none" stroke="#000080" stroke-width="0.9"/>
<path d="M183.0,95.3 L182.9,95.7 L182.6,96.0 L182.1,96.3 L181.4,96.5 L180.6,96.7 L179.8,96.7 L179.0,96.7 L178.2,96.5 L177.5,96.3 L177.0,96.0 L176.7,95.7 L176.6,95.3 L176.7,94.9 L177.0,94.6 L177.5,94.3 L178.2,94.1 L179.0,93.9 L179.8,93.9 L180.6,93.9 L181.4,94.1 L182.1,94.3 L182.6,94.6 L182.9,94.9 Z" fill="none" stroke="#000080" stroke-width="0.9"/>
<path d="M682.0,75.2 L681.6,75.8 L681.1,76.3 L680.4,76.6 L679.5,76.7 L678.6,76.7 L677.7,76.4 L676.9,76.0 L676.1,75.5 L675.6,74.9 L675.2,74.2 L675.1,73.4 L675.2,72.8 L675.6,72.2 L676.1,71.7 L676.8,71.4 L677.7,71.3 L678.6,71.3 L679.5,71.6 L680.3,72.0 L681.1,72.5 L681.6,73.1 L682.0,73.8 L682.1,74.6 Z" fill="none" stroke="#000080" stroke-width="0.9"/>
<path d="M100.4,247.4 L100.0,247.8 L99.4,248.1 L98.6,248.2 L97.8,248.0 L96.9,247.7 L96.1,247.3 L95.4,246.7 L94.8,246.0 L94.4,245.2 L94.3,244.5 L94.3,243.8 L94.6,243.2 L95.0,242.8 L95.6,242.5 L96.4,242.4 L97.2,242.6 L98.1,242.9 L98.9,243.3 L99.6,243.9 L100.2,244.6 L100.6,245.4 L100.7,246.1 L100.7,246.8 Z" fill="none" stroke="#000080" stroke-width="0.9"/>
<path d="M105.5,279.2 L105.8,279.9 L105.8,280.6 L105.5,281.3 L105.1,282.0 L104.5,282.6 L103.8,283.2 L102.9,283.5 L102.1,283.8 L101.2,283.8 L100.5,283.6 L99.9,283.3 L99.5,282.8 L99.2,282.1 L99.2,281.4 L99.5,280.7 L99.9,280.0 L100.5,279.4 L101.2,278.8 L102.1,278.5 L102.9,278.2 L103.8,278.2 L104.5,278.4 L105.1,278.7 Z" fill="none" stroke="#000080" stroke-width="0.9"/>
<path d="M156.7,277.0 L156.6,277.5 L156.3,278.0 L155.8,278.4 L155.2,278.7 L154.5,278.9 L153.7,279.0 L152.9,278.9 L152.2,278.7 L151.6,278.4 L151.1,278.0 L150.8,277.5 L150.7,277.0 L150.8,276.5 L151.1,276.0 L151.6,275.6 L152.2,275.3 L152.9,275.1 L153.7,275.0 L154.5,275.1 L155.2,275.3 L155.8,275.6 L156.3,276.0 L156.6,276.5 Z" fill="none" stroke="#000080" stroke-width="0.9"/>
<path d="M153.0,294.0 L152.9,294.5 L152.7,295.0 L152.4,295.4 L152.0,295.7 L151.5,295.9 L151.0,296.0 L150.5,295.9 L150.0,295.7 L149.6,295.4 L149.3,295.0 L149.1,294.5 L149.0,294.0 L149.1,293.5 L149.3,293.0 L149.6,292.6 L150.0,292.3 L150.5,292.1 L151.0,292.0 L151.5,292.1 L152.0,292.3 L152.4,292.6 L152.7,293.0 L152.9,293.5 Z" fill="none" stroke="#000080" stroke-width="0.9"/>
<path d="M155.9,300.0 L155.8,300.4 L155.7,300.8 L155.5,301.1 L155.2,301.3 L154.8,301.4 L154.4,301.5 L154.0,301.4 L153.7,301.3 L153.3,301.1 L153.1,300.8 L153.0,300.4 L152.9,300.0 L153.0,299.6 L153.1,299.2 L153.3,298.9 L153.7,298.7 L154.0,298.6 L154.4,298.5 L154.8,298.6 L155.2,298.7 L155.5,298.9 L155.7,299.2 L155.8,299.6 Z" fill="none" stroke="#000080" stroke-width="0.9"/>
<path d="M178.7,261.0 L178.6,261.4 L178.5,261.8 L178.3,262.1 L177.9,262.3 L177.6,262.4 L177.2,262.5 L176.8,262.4 L176.4,262.3 L176.1,262.1 L175.9,261.8 L175.8,261.4 L175.7,261.0 L175.8,260.6 L175.9,260.2 L176.1,259.9 L176.4,259.7 L176.8,259.6 L177.2,259.5 L177.6,259.6 L177.9,259.7 L178.3,259.9 L178.5,260.2 L178.6,260.6 Z" fill="none" stroke="#000080" stroke-width="0.9"/>
<path d="M219.3,129.6 C220.0,129.4 223.9,130.5 225.9,130.5 C227.9,130.5 230.7,130.2 231.5,129.6 C232.3,129.0 230.1,126.8 230.5,126.8 C230.9,126.8 233.0,129.1 234.2,129.6 C235.3,130.1 237.2,129.0 237.4,129.6 C237.6,130.2 235.2,131.9 235.2,133.3 C235.2,134.7 237.7,138.0 237.4,138.0 C237.1,138.0 234.9,134.3 233.3,133.3 C231.7,132.3 229.6,132.3 227.7,132.0 C225.8,131.7 223.4,131.9 222.0,131.5 C220.6,131.1 218.7,129.8 219.3,129.6Z" fill="none" stroke="#000080" stroke-width="0.9"/>
<path d="M363.3,271.8 C363.5,271.6 367.1,274.8 368.4,274.4 C369.7,274.0 369.6,269.9 370.9,269.3 C372.2,268.7 375.6,269.6 376.0,270.6 C376.4,271.7 373.6,274.1 373.4,275.6 C373.2,277.1 376.0,278.8 374.7,279.4 C373.4,280.0 367.1,280.0 365.8,279.4 C364.5,278.8 367.4,276.9 367.0,275.6 C366.6,274.3 363.1,272.0 363.3,271.8Z" fill="none" stroke="#000080" stroke-width="0.9"/>
<path d="M282.3,259.2 C281.7,258.5 282.4,255.5 283.5,254.0 C284.6,252.5 287.5,250.5 288.6,250.3 C289.7,250.1 290.2,251.5 290.0,252.8 C289.8,254.1 288.6,256.9 287.3,258.0 C286.0,259.1 282.9,259.9 282.3,259.2Z" fill="none" stroke="#000080" stroke-width="0.9"/>
<path d="M245.8,266.3 L245.7,266.9 L245.3,267.6 L244.6,268.1 L243.8,268.5 L242.8,268.7 L241.8,268.8 L240.8,268.7 L239.8,268.5 L239.0,268.1 L238.3,267.6 L237.9,266.9 L237.8,266.3 L237.9,265.7 L238.3,265.1 L239.0,264.5 L239.8,264.1 L240.8,263.9 L241.8,263.8 L242.8,263.9 L243.8,264.1 L244.6,264.5 L245.3,265.1 L245.7,265.7 Z" fill="none" stroke="#000080" stroke-width="0.9"/>
<path d="M407.0,313.0 C406.8,311.7 409.0,310.5 410.0,311.0 C411.0,311.5 412.8,314.7 413.0,316.0 C413.2,317.3 412.0,319.5 411.0,319.0 C410.0,318.5 407.2,314.3 407.0,313.0Z" fill="none" stroke="#000080" stroke-width="0.9"/>
<path d="M483.0,332.0 C483.7,331.0 485.5,325.8 487.0,326.0 C488.5,326.2 490.3,331.2 492.0,333.0 C493.7,334.8 495.5,336.0 497.0,337.0 C498.5,338.0 501.5,339.0 501.0,339.0 C500.5,339.0 496.2,337.8 494.0,337.0 C491.8,336.2 489.0,334.5 488.0,334.0" fill="none" stroke="#000080" stroke-width="0.9"/>
<path d="M442.8,342.9 L442.7,343.1 L442.3,343.4 L441.8,343.5 L441.3,343.5 L440.7,343.4 L440.1,343.2 L439.5,343.0 L438.9,342.6 L438.5,342.3 L438.2,341.9 L438.1,341.5 L438.2,341.1 L438.3,340.9 L438.7,340.6 L439.2,340.5 L439.7,340.5 L440.3,340.6 L440.9,340.8 L441.5,341.0 L442.1,341.4 L442.5,341.7 L442.8,342.1 L442.9,342.5 Z" fill="none" stroke="#000080" stroke-width="0.9"/>
<path d="M5.5,54.4 L5.5,54.5 L5.4,54.6 L5.4,54.8 L5.2,54.8 L5.1,54.9 L5.0,54.9 L4.9,54.9 L4.8,54.8 L4.6,54.8 L4.6,54.6 L4.5,54.5 L4.5,54.4 L4.5,54.3 L4.6,54.1 L4.6,54.0 L4.8,54.0 L4.9,53.9 L5.0,53.9 L5.1,53.9 L5.2,54.0 L5.4,54.0 L5.4,54.1 L5.5,54.3 Z" fill="none" stroke="#000080" stroke-width="0.9"/>
<path d="M135.2,73.4 L134.5,68.5 L139.2,66.3 L146.3,68.4 L156.5,71.4 L166.6,73.4 L172.7,73.4 L178.7,71.4 L186.8,73.4 L195.0,76.5 L203.0,78.5 L211.1,77.5 L219.2,76.5 L224.3,73.4 L225.3,67.3 L235.4,63.3 L245.6,57.2 L257.7,51.1 L264.8,47.1 L272.0,45.0 L280.0,42.0 L287.3,38.0 L300.0,34.0 L314.0,36.7 L329.0,36.7 L342.7,37.7 L352.8,38.9 L357.0,35.4 L361.6,32.0 L364.0,33.0 L366.7,37.7 L369.2,45.3 L378.1,50.3 L384.4,52.3 L393.3,50.3 L400.0,48.0 L403.4,49.0 L404.0,53.0 L404.7,57.9 L411.0,65.5 L414.8,71.8 L421.1,70.6 L427.5,67.5 L435.0,71.8 L441.4,74.4 L445.2,78.2 L454.0,78.7 L459.1,82.0 L464.2,82.0 L470.5,80.5 L476.8,85.8 L487.0,87.0 L497.1,85.8 L507.2,83.2 L516.0,81.2 L524.0,81.0 L534.0,81.0 L541.8,83.5 L554.4,83.5 L564.6,84.8 L574.7,81.0 L584.8,76.0 L592.4,72.0 L600.0,65.8 L609.0,59.5 L612.8,54.4 L614.0,57.0 L617.8,60.8 L625.4,55.7 L633.0,54.4 L642.0,55.9 L648.7,56.8 L651.5,51.2 L656.0,48.4 L659.9,50.3 L660.8,54.0 L667.3,56.8 L674.8,62.4 L682.2,66.0 L685.0,69.0 L686.0,72.6 L689.7,75.4 L696.2,81.0 L700.0,86.6 L699.0,93.2 L694.4,99.7 L693.4,105.3 L697.2,114.6 L699.0,120.2 L704.6,122.0 L714.0,123.3 L726.7,123.8 L736.8,130.0 L745.7,137.7 L745.7,141.0 L739.4,136.5 L733.0,137.7 L731.8,147.8 L724.2,153.0 L717.8,154.2 L721.6,163.0 L725.4,173.0 L728.0,183.3 L729.2,198.5 L736.8,206.0 L734.3,218.7 L739.4,229.0 L748.2,232.7 L749.5,249.0 L755.8,252.8 L757.0,259.2 L752.0,261.7 L744.4,264.2 L740.6,270.0 L736.8,266.8 L731.8,259.2 L724.2,256.6 L711.5,261.7 L701.4,259.2 L691.3,256.6 L677.3,259.2 L671.0,263.0 L668.5,270.6 L662.0,271.8 L661.0,265.5 L653.3,263.0 L643.0,268.0 L630.5,274.4 L615.3,277.0 L602.7,275.6 L590.0,279.0 L577.2,285.8 L564.6,293.4 L552.0,297.0 L536.7,299.7 L524.0,301.0 L511.4,299.7 L501.3,292.0 L491.0,290.8 L481.0,293.4 L468.4,298.4 L458.2,302.2 L443.0,301.0 L440.0,297.0 L433.0,294.1 L426.4,294.1 L423.1,297.4 L421.4,304.9 L423.1,311.5 L427.2,317.3 L429.7,321.5 L419.7,324.8 L413.9,329.0 L411.4,334.0 L406.4,336.4 L404.8,340.6 L402.3,343.0 L396.5,339.8 L391.5,341.4 L394.0,335.6 L395.6,330.6 L394.8,323.2 L392.3,318.2 L393.2,314.0 L398.1,309.0 L404.0,304.0 L406.4,299.0 L405.6,293.3 L402.3,290.0 L396.5,290.8 L391.5,294.9 L384.9,296.6 L379.9,299.0 L380.7,301.6 L384.9,302.4 L382.4,305.7 L375.7,305.7 L371.6,304.0 L364.9,300.7 L358.3,297.4 L351.6,294.9 L346.6,294.1 L336.7,301.0 L329.0,309.8 L322.8,317.4 L317.7,320.0 L308.9,325.0 L293.7,326.3 L281.0,328.3 L270.9,331.3 L262.0,327.5 L253.2,320.0 L245.6,311.0 L238.0,303.5 L225.3,297.0 L215.2,292.0 L200.0,286.5 L186.0,287.0 L181.0,293.4 L177.2,303.5 L174.7,309.8 L167.0,313.6 L157.0,317.4 L146.8,320.7 L138.0,320.0 L129.0,315.0 L122.7,309.0 L119.0,303.4 L119.9,298.7 L117.1,294.0 L113.4,292.2 L108.7,295.0 L103.1,290.3 L99.4,285.6 L95.6,283.8 L91.0,285.6 L85.4,288.4 L79.8,294.0 L75.1,295.9 L77.0,293.0 L79.8,288.4 L72.3,287.5 L64.9,287.5 L57.4,290.3 L51.8,289.4 L52.7,286.6 L61.1,285.6 L70.4,285.6 L77.0,284.7 L77.9,281.0 L83.5,279.1 L89.1,276.3 L87.2,273.9 L77.9,274.4 L64.9,273.9 L55.5,272.6 L49.0,273.5 L46.2,271.6 L49.0,268.8 L52.7,268.8 L59.3,267.0 L63.0,263.2 L58.3,258.6 L53.7,254.9 L48.0,254.0 L49.0,249.3 L46.2,243.7 L43.4,239.0 L50.9,232.5 L52.7,225.0 L53.5,222.9 L48.6,221.1 L42.3,219.2 L36.1,217.3 L34.2,213.0 L31.1,209.8 L26.2,213.6 L21.8,211.1 L16.2,207.4 L11.8,206.1 L12.5,203.0 L16.2,203.6 L21.8,201.1 L20.5,196.8 L17.4,190.5 L18.7,187.4 L23.0,188.7 L26.2,193.0 L25.5,197.4 L26.8,204.9 L29.9,206.1 L29.9,201.8 L32.4,203.6 L37.4,203.0 L43.6,203.6 L49.2,203.6 L49.8,201.1 L48.0,199.3 L43.6,199.9 L39.9,198.0 L38.6,193.7 L35.5,190.5 L34.2,186.2 L37.4,185.0 L39.9,181.8 L43.6,182.5 L48.0,179.3 L47.3,175.6 L41.0,173.7 L40.1,170.0 L39.2,164.4 L34.5,160.6 L31.7,156.0 L35.4,153.2 L40.1,150.4 L42.9,145.7 L40.1,143.8 L30.8,144.8 L26.1,143.3 L16.8,144.8 L11.2,142.9 L15.9,133.6 L16.8,124.3 L20.5,118.7 L27.0,115.9 L28.2,114.6 L32.3,110.6 L40.4,105.5 L50.5,101.5 L58.6,101.5 L64.7,105.5 L70.8,108.5 L78.9,108.5 L81.9,104.5 L78.9,101.5 L80.9,98.4 L87.0,100.4 L88.0,105.5 L91.0,108.5 L101.1,108.5 L111.3,109.6 L123.4,110.6 L131.5,110.6 L133.6,106.5 L125.4,104.5 L122.4,101.5 L129.5,98.4 L141.7,95.4 L151.8,94.4 L163.9,92.3 L166.0,90.9 L151.8,90.3 L143.7,88.3 L137.6,83.2 L135.0,77.5 Z M31.6,33.0 L40.5,26.6 L57.0,19.7 L68.4,19.7 L76.0,26.6 L97.5,26.6 L97.5,38.0 L101.0,48.0 L111.4,57.0 L120.0,63.3 L126.0,65.3 L131.5,67.0 L133.6,71.0 L133.6,75.1 L127.5,79.2 L119.4,78.2 L111.3,75.1 L101.1,73.1 L91.0,73.5 L78.9,74.1 L72.8,77.2 L64.7,82.2 L60.6,87.3 L53.5,91.3 L46.5,95.4 L38.4,99.4 L29.2,106.5 L25.2,111.6 L24.2,112.6 L21.1,108.5 L22.2,104.5 L29.2,100.4 L36.3,97.4 L43.4,92.3 L42.4,88.3 L34.3,87.7 L25.2,88.3 L17.1,86.3 L16.1,82.2 L24.2,73.1 L29.2,65.0 L29.0,63.0 L33.0,57.0 L39.0,50.6 L39.0,40.5 L36.0,35.0 Z" fill="none" stroke="#000080" stroke-width="1.5" stroke-linejoin="round"/>
<circle cx="307.6" cy="88.0" r="2.4" fill="#000"/>
<circle cx="640.6" cy="232.6" r="1.5" fill="#000"/>
<circle cx="379.0" cy="218.0" r="1.2" fill="#000"/>
<circle cx="63.3" cy="37.5" r="1.7" fill="#000"/>
<text x="36.7" y="34.2" class="c">KIRKLARELİ</text>
<circle cx="39.7" cy="39.2" r="1.7" fill="#000"/>
<text x="42.5" y="47.3" class="c">EDİRNE</text>
<circle cx="72.7" cy="75.2" r="1.7" fill="#000"/>
<text x="50.6" y="72.2" class="c">TEKİRDAĞ</text>
<circle cx="-10.0" cy="-10.0" r="1.7" fill="#000"/>
<text x="119.0" y="79.0" class="c">İSTANBUL</text>
<circle cx="183.5" cy="93.7" r="1.7" fill="#000"/>
<text x="158.5" y="89.8" class="c">ADAPAZARI</text>
<circle cx="164.6" cy="91.6" r="1.7" fill="#000"/>
<text x="152.4" y="99.0" class="c">İZMİT</text>
<circle cx="139.2" cy="96.2" r="1.7" fill="#000"/>
<text x="131.6" y="105.8" class="c">YALOVA</text>
<circle cx="128.6" cy="119.0" r="1.7" fill="#000"/>
<text x="114.4" y="116.0" class="c">BURSA</text>
<circle cx="165.6" cy="123.4" r="1.7" fill="#000"/>
<text x="147.4" y="119.8" class="c">BİLECİK</text>
<circle cx="28.0" cy="115.3" r="1.7" fill="#000"/>
<text x="26.7" y="124.4" class="c">ÇANAKKALE</text>
<circle cx="81.5" cy="143.3" r="1.7" fill="#000"/>
<text x="58.4" y="140.4" class="c">BALIKESİR</text>
<circle cx="212.8" cy="90.4" r="1.7" fill="#000"/>
<text x="198.0" y="87.0" class="c">DÜZCE</text>
<circle cx="229.6" cy="96.5" r="1.7" fill="#000"/>
<text x="218.0" y="93.0" class="c">BOLU</text>
<circle cx="186.0" cy="142.7" r="1.7" fill="#000"/>
<text x="164.0" y="140.5" class="c">ESKİŞEHİR</text>
<circle cx="260.0" cy="52.0" r="1.7" fill="#000"/>
<text x="243.5" y="49.6" class="c">BARTIN</text>
<circle cx="240.5" cy="62.0" r="1.7" fill="#000"/>
<text x="214.0" y="59.2" class="c">ZONGULDAK</text>
<circle cx="262.5" cy="76.0" r="1.7" fill="#000"/>
<text x="241.8" y="72.7" class="c">KARABÜK</text>
<circle cx="313.4" cy="65.3" r="1.7" fill="#000"/>
<text x="286.6" y="62.0" class="c">KASTAMONU</text>
<circle cx="362.5" cy="34.2" r="1.7" fill="#000"/>
<text x="349.9" y="31.1" class="c">SİNOP</text>
<circle cx="307.6" cy="105.3" r="1.7" fill="#000"/>
<text x="289.9" y="101.8" class="c">ÇANKIRI</text>
<circle cx="360.3" cy="107.5" r="1.7" fill="#000"/>
<text x="343.8" y="104.0" class="c">ÇORUM</text>
<circle cx="394.5" cy="104.4" r="1.7" fill="#000"/>
<text x="376.3" y="100.9" class="c">AMASYA</text>
<circle cx="413.5" cy="72.3" r="1.7" fill="#000"/>
<text x="396.6" y="69.0" class="c">SAMSUN</text>
<circle cx="472.7" cy="86.3" r="1.7" fill="#000"/>
<text x="459.5" y="83.0" class="c">ORDU</text>
<circle cx="493.7" cy="90.4" r="1.7" fill="#000"/>
<text x="477.2" y="86.6" class="c">GİRESUN</text>
<circle cx="543.5" cy="84.3" r="1.7" fill="#000"/>
<text x="523.3" y="81.0" class="c">TRABZON</text>
<circle cx="573.4" cy="81.5" r="1.7" fill="#000"/>
<text x="563.3" y="78.0" class="c">RİZE</text>
<circle cx="534.7" cy="112.4" r="1.7" fill="#000"/>
<text x="508.4" y="108.9" class="c">GÜMÜŞHANE</text>
<circle cx="565.8" cy="120.6" r="1.7" fill="#000"/>
<text x="546.0" y="117.0" class="c">BAYBURT</text>
<circle cx="422.3" cy="121.0" r="1.7" fill="#000"/>
<text x="407.6" y="117.5" class="c">TOKAT</text>
<circle cx="-10.0" cy="-10.0" r="1.7" fill="#000"/>
<text x="607.8" y="66.7" class="c">ARTVİN</text>
<circle cx="657.0" cy="71.6" r="1.7" fill="#000"/>
<text x="637.5" y="66.7" class="c">ARDAHAN</text>
<circle cx="675.3" cy="96.5" r="1.7" fill="#000"/>
<text x="664.2" y="93.2" class="c">KARS</text>
<circle cx="157.7" cy="168.6" r="1.7" fill="#000"/>
<text x="136.7" y="165.0" class="c">KÜTAHYA</text>
<circle cx="60.8" cy="193.7" r="1.7" fill="#000"/>
<text x="44.3" y="190.6" class="c">MANİSA</text>
<circle cx="49.4" cy="203.0" r="1.7" fill="#000"/>
<text x="50.6" y="208.0" class="c">İZMİR</text>
<circle cx="138.7" cy="196.2" r="1.7" fill="#000"/>
<text x="126.6" y="192.7" class="c">UŞAK</text>
<circle cx="184.3" cy="194.0" r="1.7" fill="#000"/>
<text x="170.0" y="190.9" class="c">AFYON</text>
<circle cx="73.4" cy="233.7" r="1.7" fill="#000"/>
<text x="57.7" y="230.4" class="c">AYDIN</text>
<circle cx="170.9" cy="245.3" r="1.7" fill="#000"/>
<text x="153.7" y="241.8" class="c">BURDUR</text>
<circle cx="182.8" cy="244.5" r="1.7" fill="#000"/>
<text x="186.0" y="249.0" class="c">ISPARTA</text>
<circle cx="185.6" cy="286.5" r="1.7" fill="#000"/>
<text x="164.5" y="283.0" class="c">ANTALYA</text>
<circle cx="92.4" cy="266.8" r="1.7" fill="#000"/>
<text x="76.0" y="263.7" class="c">MUĞLA</text>
<circle cx="-10.0" cy="-10.0" r="1.7" fill="#000"/>
<text x="256.6" y="130.9" class="c" style="font-size:8.8px;letter-spacing:0.1px">ANKARA</text>
<circle cx="303.3" cy="141.5" r="1.7" fill="#000"/>
<text x="279.7" y="137.2" class="c">KIRIKKALE</text>
<circle cx="353.2" cy="144.6" r="1.7" fill="#000"/>
<text x="336.0" y="140.8" class="c">YOZGAT</text>
<circle cx="328.6" cy="177.7" r="1.7" fill="#000"/>
<text x="303.0" y="174.4" class="c">KIRŞEHİR</text>
<circle cx="349.4" cy="203.0" r="1.7" fill="#000"/>
<text x="327.8" y="199.7" class="c">NEVŞEHİR</text>
<circle cx="380.5" cy="199.0" r="1.7" fill="#000"/>
<text x="361.0" y="195.2" class="c">KAYSERİ</text>
<circle cx="323.3" cy="215.7" r="1.7" fill="#000"/>
<text x="305.0" y="211.9" class="c">AKSARAY</text>
<circle cx="348.6" cy="236.7" r="1.7" fill="#000"/>
<text x="335.0" y="233.4" class="c">NİĞDE</text>
<circle cx="261.5" cy="239.0" r="1.7" fill="#000"/>
<text x="246.3" y="236.5" class="c">KONYA</text>
<circle cx="439.2" cy="149.6" r="1.7" fill="#000"/>
<text x="427.3" y="146.3" class="c">SİVAS</text>
<circle cx="539.5" cy="147.6" r="1.7" fill="#000"/>
<text x="517.0" y="144.3" class="c">ERZİNCAN</text>
<circle cx="538.5" cy="177.7" r="1.7" fill="#000"/>
<text x="519.0" y="174.2" class="c">TUNCELİ</text>
<circle cx="578.5" cy="188.4" r="1.7" fill="#000"/>
<text x="561.5" y="184.8" class="c">BİNGÖL</text>
<circle cx="528.4" cy="202.3" r="1.7" fill="#000"/>
<text x="511.4" y="198.7" class="c">ELAZIĞ</text>
<circle cx="492.4" cy="216.5" r="1.7" fill="#000"/>
<text x="471.6" y="213.0" class="c">MALATYA</text>
<circle cx="492.4" cy="248.5" r="1.7" fill="#000"/>
<text x="468.9" y="244.8" class="c">ADIYAMAN</text>
<circle cx="609.0" cy="137.0" r="1.7" fill="#000"/>
<text x="588.0" y="133.2" class="c">ERZURUM</text>
<circle cx="678.0" cy="139.5" r="1.7" fill="#000"/>
<text x="667.2" y="136.5" class="c">AĞRI</text>
<circle cx="715.3" cy="127.0" r="1.7" fill="#000"/>
<text x="708.5" y="138.2" class="c">IĞDIR</text>
<circle cx="714.6" cy="246.5" r="1.7" fill="#000"/>
<text x="694.6" y="242.0" class="c">HAKKARİ</text>
<circle cx="664.7" cy="247.3" r="1.7" fill="#000"/>
<text x="648.5" y="244.2" class="c">ŞIRNAK</text>
<circle cx="289.4" cy="275.6" r="1.7" fill="#000"/>
<text x="267.8" y="272.0" class="c">KARAMAN</text>
<circle cx="346.3" cy="293.6" r="1.7" fill="#000"/>
<text x="329.6" y="290.0" class="c">MERSİN</text>
<circle cx="374.2" cy="283.7" r="1.7" fill="#000"/>
<text x="365.0" y="293.4" class="c">ADANA</text>
<circle cx="-10.0" cy="-10.0" r="1.7" fill="#000"/>
<text x="385.4" y="278.4" class="c">OSMANİYE</text>
<circle cx="455.4" cy="282.5" r="1.7" fill="#000"/>
<text x="430.2" y="279.4" class="c">GAZİANTEP</text>
<circle cx="436.8" cy="257.3" r="1.7" fill="#000"/>
<text x="397.0" y="253.5" class="c">KAHRAMANMARAŞ</text>
<circle cx="444.6" cy="300.2" r="1.7" fill="#000"/>
<text x="432.7" y="296.5" class="c">KİLİS</text>
<circle cx="405.3" cy="326.7" r="1.7" fill="#000"/>
<text x="384.5" y="322.3" class="c">ANTAKYA</text>
<circle cx="513.9" cy="278.2" r="1.7" fill="#000"/>
<text x="489.9" y="276.1" class="c">ŞANLIURFA</text>
<circle cx="5.6" cy="13.4" r="2" fill="#000"/><circle cx="770.5" cy="13.4" r="2" fill="#000"/>
<circle cx="5.6" cy="417.5" r="2" fill="#000"/><circle cx="770.7" cy="417.6" r="2" fill="#000"/>
<circle cx="5" cy="54.4" r="0.9" fill="#000080"/>
<g transform="translate(581.5,298.6)"><ellipse cx="0" cy="0" rx="11.1" ry="5.2" fill="none" stroke="#000" stroke-width="1.4"/><text x="-0.3" y="3.9" text-anchor="middle" transform="scale(1.6,1)" class="t" font-size="11">C</text></g>
<text transform="translate(602.3,304) scale(2.02,1)" class="t" font-size="15.5">MGM</text>
<text x="436.8" y="337" class="t" font-size="14.57">SPI(Standardized Precipitation Index)Metodu ile</text>
<text x="524.3" y="358.3" class="t" font-size="14.57">Meteorolojik Kuraklık Haritası</text>
<text x="524.3" y="380.2" class="t" font-size="14.7">12 Aylık (Ağustos 2020-Temmuz 2021)</text>
<text x="524.3" y="400.7" class="n" font-size="11.36">Hazırlanış Tarihi: Ağustos 2021</text>
<text x="116" y="391.6" class="n" font-size="10.12">* Bu veriler kalite kontrolden geçmemiştir.</text>
<rect x="33.0" y="433" width="44.2" height="24.2" fill="#000000" stroke="#000" stroke-width="1"/>
<text x="52.5" y="419" class="l1">EXCEPTIONALLY</text><text x="52.5" y="428" class="l1">DRY</text>
<text x="54.3" y="469.5" class="l2">OLAĞANÜSTÜ</text><text x="54.3" y="479.4" class="l2">KURAK</text>
<rect x="99.7" y="433" width="44.2" height="24.2" fill="#663300" stroke="#000" stroke-width="1"/>
<text x="120.6" y="419" class="l1">EXTREMELY</text><text x="120.6" y="428" class="l1">DRY</text>
<text x="122.7" y="469.5" class="l2">ÇOK ŞİDDETLİ</text><text x="122.7" y="479.4" class="l2">KURAK</text>
<rect x="166.4" y="433" width="44.2" height="24.2" fill="#cc3300" stroke="#000" stroke-width="1"/>
<text x="185.9" y="419" class="l1">SEVERELY</text><text x="185.9" y="428" class="l1">DRY</text>
<text x="188.0" y="469.5" class="l2">ŞİDDETLİ</text><text x="188.0" y="479.4" class="l2">KURAK</text>
<rect x="233.1" y="433" width="44.2" height="24.2" fill="#ff9966" stroke="#000" stroke-width="1"/>
<text x="252.5" y="419" class="l1">MODERATELY</text><text x="252.5" y="428" class="l1">DRY</text>
<text x="252.3" y="469.5" class="l2">ORTA</text><text x="252.3" y="479.4" class="l2">KURAK</text>
<rect x="299.8" y="433" width="44.2" height="24.2" fill="#ffff00" stroke="#000" stroke-width="1"/>
<text x="320.0" y="419" class="l1">ABNORMALLY</text><text x="320.0" y="428" class="l1">DRY</text>
<text x="321.9" y="469.5" class="l2">HAFİF</text><text x="321.9" y="479.4" class="l2">KURAK</text>
<rect x="366.5" y="433" width="44.2" height="24.2" fill="#ffffff" stroke="#000" stroke-width="1"/>
<text x="386.0" y="419" class="l1">NEAR</text><text x="386.0" y="428" class="l1">NORMAL</text>
<text x="388.0" y="469.5" class="l2">NORMAL</text><text x="388.0" y="479.4" class="l2">CİVARI</text>
<rect x="433.2" y="433" width="44.2" height="24.2" fill="#99ff00" stroke="#000" stroke-width="1"/>
<text x="453.4" y="419" class="l1">ABNORMALLY</text><text x="453.4" y="428" class="l1">MOIST</text>
<text x="455.4" y="469.5" class="l2">HAFİF</text><text x="455.4" y="479.4" class="l2">NEMLİ</text>
<rect x="499.9" y="433" width="44.2" height="24.2" fill="#33cc66" stroke="#000" stroke-width="1"/>
<text x="520.0" y="419" class="l1">MODERATELY</text><text x="520.0" y="428" class="l1">MOIST</text>
<text x="521.5" y="469.5" class="l2">ORTA</text><text x="521.5" y="479.4" class="l2">NEMLİ</text>
<rect x="566.6" y="433" width="44.2" height="24.2" fill="#339966" stroke="#000" stroke-width="1"/>
<text x="588.0" y="419" class="l1">VERY</text><text x="588.0" y="428" class="l1">MOIST</text>
<text x="589.2" y="469.5" class="l2">ÇOK</text><text x="589.2" y="479.4" class="l2">NEMLİ</text>
<rect x="633.3" y="433" width="44.2" height="24.2" fill="#0000ff" stroke="#000" stroke-width="1"/>
<text x="651.6" y="419" class="l1">EXTREMELY</text><text x="651.6" y="428" class="l1">MOIST</text>
<text x="653.0" y="469.5" class="l2">AŞIRI</text><text x="653.0" y="479.4" class="l2">NEMLİ</text>
<rect x="700.0" y="433" width="44.2" height="24.2" fill="#9900ff" stroke="#000" stroke-width="1"/>
<text x="720.7" y="419" class="l1">EXCEPTIONALLY</text><text x="720.7" y="428" class="l1">MOIST</text>
<text x="722.5" y="469.5" class="l2">OLAĞANÜSTÜ</text><text x="722.5" y="479.4" class="l2">NEMLİ</text>
</svg>
</body></html>
